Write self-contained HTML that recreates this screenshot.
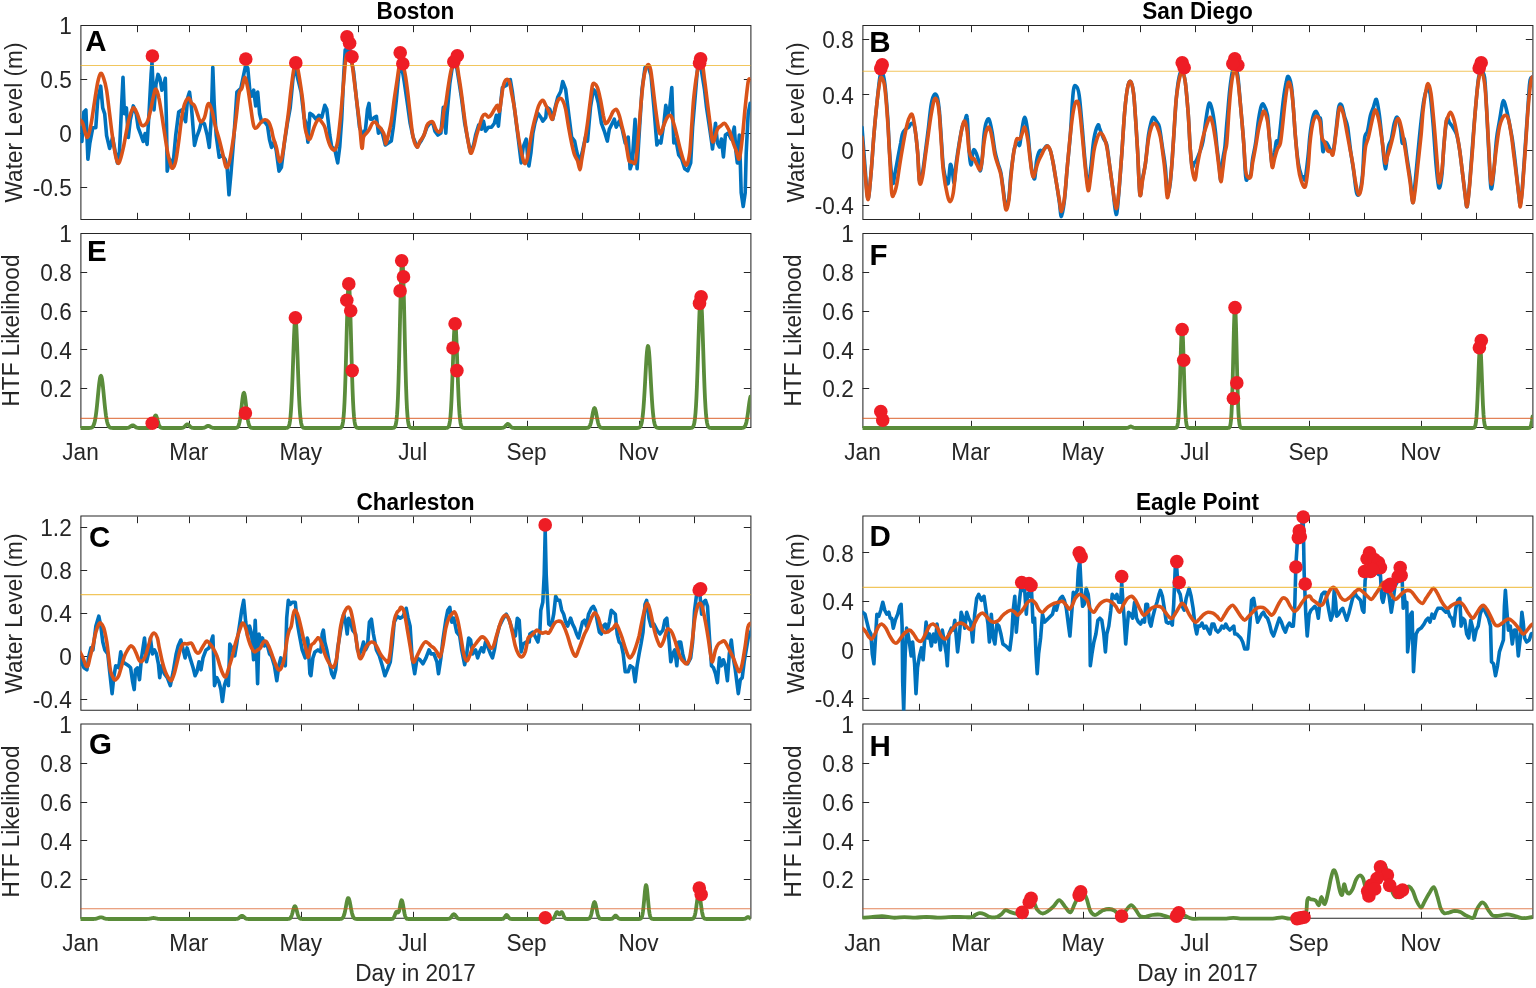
<!DOCTYPE html><html><head><meta charset="utf-8"><style>html,body{margin:0;padding:0;background:#fff;}svg{display:block;}text{font-family:"Liberation Sans",Arial,sans-serif;}</style></head><body>
<svg width="1536" height="988" viewBox="0 0 1536 988">
<rect width="1536" height="988" fill="#fff"/>
<g><clipPath id="cA"><rect x="80.5" y="25.5" width="670.0" height="194.0"/></clipPath><clipPath id="gA"><rect x="80.5" y="25.5" width="670.0" height="197.0"/></clipPath><path d="M80.4 25.5H751.4M80.4 219.4H751.4M80.9 25.5V219.4M750.9 25.5V219.4" fill="none" stroke="#262626" stroke-width="1.05"/><path d="M137.5 219.5v-6.7M137.5 25.5v6.7M189.5 219.5v-6.7M189.5 25.5v6.7M246.5 219.5v-6.7M246.5 25.5v6.7M301.5 219.5v-6.7M301.5 25.5v6.7M358.5 219.5v-6.7M358.5 25.5v6.7M413.5 219.5v-6.7M413.5 25.5v6.7M470.5 219.5v-6.7M470.5 25.5v6.7M527.5 219.5v-6.7M527.5 25.5v6.7M582.5 219.5v-6.7M582.5 25.5v6.7M639.5 219.5v-6.7M639.5 25.5v6.7M694.5 219.5v-6.7M694.5 25.5v6.7M80.5 187.5h6.7M750.5 187.5h-6.7M80.5 133.5h6.7M750.5 133.5h-6.7M80.5 79.5h6.7M750.5 79.5h-6.7" stroke="#262626" stroke-width="1" fill="none"/><polyline clip-path="url(#cA)" points="80.0,127.7 81.9,141.5 83.9,111.9 85.9,109.9 87.9,159.3 89.8,143.5 92.8,127.7 95.8,127.7 97.7,100.0 100.7,86.2 102.7,107.9 104.7,113.8 106.6,135.6 109.6,148.4 112.6,137.5 115.5,153.3 117.5,163.2 119.5,151.4 121.4,109.9 123.0,77.3 124.4,113.8 126.4,107.9 128.3,137.5 130.3,119.8 133.3,105.9 136.2,113.8 138.2,127.7 141.2,135.6 143.2,141.5 145.1,133.6 147.1,144.4 149.1,111.9 151.1,74.4 152.0,62.5 154.0,109.9 156.0,84.2 158.0,74.4 159.9,78.3 161.9,90.2 163.9,84.2 165.3,78.3 166.5,123.7 167.2,171.1 169.8,159.3 172.8,167.2 175.7,135.6 178.7,111.9 181.7,109.9 185.6,121.7 187.6,98.1 189.5,92.1 191.5,107.9 194.5,145.4 196.5,137.5 199.4,129.6 201.4,121.7 204.4,123.7 207.3,135.6 209.3,147.4 211.3,117.8 212.8,67.4 214.2,104.0 216.2,135.6 219.2,157.3 222.1,155.3 225.1,159.3 227.1,167.2 229.0,194.8 231.0,173.1 234.0,135.6 236.9,92.1 240.9,88.2 245.8,64.5 247.8,68.4 249.8,90.2 251.7,96.1 253.7,90.2 255.7,105.9 257.7,92.1 259.6,113.8 261.6,121.7 264.6,121.7 267.5,125.7 269.5,139.5 271.5,147.4 274.4,141.5 276.4,151.4 279.0,171.1 281.4,167.2 284.3,143.5 287.3,123.7 290.2,107.9 293.2,76.3 295.2,67.4 297.2,76.3 301.1,92.1 304.1,117.8 306.0,123.2 307.9,142.1 309.9,113.3 312.9,115.3 315.9,119.2 318.8,115.3 321.8,117.3 324.8,105.3 326.8,109.3 329.8,135.1 331.7,147.0 334.7,149.0 337.7,162.9 339.7,147.0 341.7,119.2 343.7,75.6 345.2,49.8 347.2,53.8 349.6,47.8 352.0,63.7 353.6,71.6 356.5,99.4 359.5,127.2 362.5,135.1 365.5,129.2 367.5,109.3 369.0,103.4 370.4,119.2 372.4,119.2 374.4,117.3 376.4,116.3 378.4,133.1 381.3,129.2 383.3,137.1 385.3,145.0 388.3,143.0 391.3,141.1 393.3,127.2 396.2,101.4 399.2,69.6 401.2,63.7 404.2,81.5 407.1,101.4 410.1,123.2 413.1,137.1 417.1,147.0 421.0,141.1 424.0,135.1 427.0,127.2 430.0,123.2 432.9,123.2 434.9,131.1 437.9,135.1 440.9,133.1 443.3,107.3 445.8,133.1 446.8,117.3 449.8,83.5 452.8,63.7 455.8,61.7 458.7,79.6 461.7,99.4 464.7,123.2 467.7,139.1 470.6,153.0 473.6,145.0 475.6,135.1 478.6,125.2 481.5,129.2 483.5,121.2 485.5,131.1 488.5,127.2 491.5,127.2 494.4,123.2 496.4,115.3 498.4,126.2 500.4,105.3 502.4,87.5 506.3,85.5 510.3,79.6 512.3,91.5 515.3,115.3 518.3,139.1 521.2,162.9 523.2,147.0 526.2,139.1 528.2,162.9 528.9,165.9 530.9,153.0 532.9,133.1 534.9,123.2 537.9,113.3 540.8,117.3 542.8,121.2 545.8,117.3 546.8,107.3 549.8,109.3 552.8,119.2 554.7,109.3 557.7,97.4 560.7,91.5 562.7,81.5 565.7,89.5 568.6,113.3 571.6,137.1 574.6,141.1 576.6,151.0 579.5,162.9 582.5,151.0 585.5,137.1 587.5,141.1 590.5,107.3 593.4,89.5 595.4,91.5 598.4,103.4 601.4,123.2 604.3,131.1 607.3,141.1 609.3,129.2 612.3,123.2 614.3,119.2 616.2,127.2 619.2,121.2 622.2,129.2 625.2,143.0 628.2,137.1 630.1,168.8 632.1,162.9 635.1,119.2 637.1,168.8 639.1,135.1 642.0,89.5 645.0,67.7 648.0,65.7 651.0,75.6 653.9,107.3 656.9,145.0 658.9,141.1 660.9,143.0 663.9,123.2 665.8,105.3 667.8,115.3 669.8,107.3 671.8,87.5 673.8,143.0 675.8,139.1 678.7,155.0 681.7,158.9 684.7,168.8 687.7,170.8 690.7,162.9 692.6,127.2 695.6,91.5 697.6,67.7 699.6,59.7 701.6,71.6 704.5,89.5 706.5,107.3 709.5,127.2 711.5,141.1 712.5,149.0 715.5,123.2 717.4,143.0 719.4,147.0 721.4,139.1 723.4,156.9 725.4,135.1 728.3,133.1 731.3,139.1 734.3,127.2 735.9,151.0 737.3,162.9 739.3,135.1 740.3,162.9 741.2,192.7 743.2,206.5 745.2,192.7 746.2,153.0 748.2,113.3 750.2,103.4" fill="none" stroke="#0072BD" stroke-width="3.6" stroke-linejoin="round" stroke-linecap="round"/><path clip-path="url(#cA)" d="M80.0,119.8C80.5,120.4 81.8,120.8 82.9,123.7C84.1,126.7 85.6,137.2 86.9,137.5C88.2,137.9 89.5,131.9 90.8,125.7C92.1,119.4 93.6,107.3 94.8,100.0C95.9,92.8 96.8,86.7 97.7,82.3C98.7,77.8 99.7,74.0 100.7,73.4C101.7,72.7 102.7,75.5 103.7,78.3C104.7,81.1 105.6,84.2 106.6,90.2C107.6,96.1 108.6,105.9 109.6,113.8C110.6,121.7 111.6,130.6 112.6,137.5C113.5,144.4 114.6,151.0 115.5,155.3C116.4,159.6 117.3,162.5 118.1,163.2C118.9,163.9 119.6,161.9 120.4,159.3C121.3,156.6 122.4,152.0 123.4,147.4C124.4,142.8 125.4,136.5 126.4,131.6C127.4,126.7 128.2,121.7 129.3,117.8C130.5,113.8 132.0,108.6 133.3,107.9C134.6,107.3 135.9,111.0 137.2,113.8C138.5,116.6 139.9,122.9 141.2,124.7C142.5,126.5 144.0,125.5 145.1,124.7C146.3,123.9 147.1,122.6 148.1,119.8C149.1,117.0 150.1,112.2 151.1,107.9C152.0,103.6 153.2,97.2 154.0,94.1C154.8,91.0 155.2,88.5 156.0,89.2C156.8,89.8 158.0,93.6 158.9,98.1C159.9,102.5 160.9,109.6 161.9,115.8C162.9,122.1 163.9,129.3 164.9,135.6C165.9,141.8 166.8,148.4 167.8,153.3C168.8,158.3 170.0,162.7 170.8,165.2C171.6,167.6 171.9,168.8 172.8,168.1C173.6,167.5 174.7,165.7 175.7,161.2C176.7,156.8 177.7,148.7 178.7,141.5C179.7,134.2 180.7,124.0 181.7,117.8C182.6,111.5 183.5,107.3 184.6,104.0C185.8,100.7 187.4,98.2 188.6,98.1C189.7,97.9 190.5,101.7 191.5,103.0C192.5,104.3 193.5,104.1 194.5,105.9C195.5,107.8 196.5,111.2 197.4,113.8C198.4,116.5 199.3,121.1 200.4,121.7C201.6,122.4 203.2,120.4 204.4,117.8C205.5,115.2 206.5,108.3 207.3,105.9C208.1,103.6 208.5,103.0 209.3,104.0C210.1,105.0 211.3,108.3 212.3,111.9C213.2,115.5 214.1,121.1 215.2,125.7C216.4,130.3 217.8,134.6 219.2,139.5C220.5,144.4 222.0,150.7 223.1,155.3C224.3,159.9 225.1,165.8 226.1,167.2C227.1,168.5 228.0,166.5 229.0,163.2C230.0,159.9 230.8,154.6 232.0,147.4C233.1,140.2 234.8,128.7 235.9,119.8C237.1,110.9 237.9,99.4 238.9,94.1C239.9,88.8 240.9,91.0 241.9,88.2C242.9,85.4 243.8,77.3 244.8,77.3C245.8,77.3 246.8,83.1 247.8,88.2C248.8,93.3 249.8,101.7 250.8,107.9C251.7,114.2 252.7,122.4 253.7,125.7C254.7,129.0 255.5,128.2 256.7,127.7C257.8,127.2 259.3,124.0 260.6,122.7C261.9,121.4 263.3,119.9 264.6,119.8C265.9,119.6 267.4,120.1 268.5,121.7C269.7,123.4 270.7,126.8 271.5,129.6C272.3,132.4 272.6,135.6 273.5,138.5C274.3,141.5 275.4,143.6 276.4,147.4C277.4,151.2 278.4,159.9 279.4,161.2C280.4,162.5 281.4,159.6 282.3,155.3C283.3,151.0 284.3,142.5 285.3,135.6C286.3,128.7 287.3,121.7 288.3,113.8C289.3,105.9 290.2,95.9 291.2,88.2C292.2,80.4 293.2,71.1 294.2,67.4C295.2,63.8 296.2,64.0 297.2,66.5C298.1,68.9 299.1,76.0 300.1,82.3C301.1,88.5 302.3,96.5 303.1,104.0C303.9,111.5 304.1,121.5 305.0,127.2C305.8,132.9 307.1,136.1 307.9,138.1C308.8,140.1 309.3,139.7 309.9,139.1C310.6,138.4 311.1,136.4 311.9,134.1C312.7,131.8 313.7,127.7 314.9,125.2C316.0,122.7 317.7,119.7 318.8,119.2C320.0,118.7 320.8,120.9 321.8,122.2C322.8,123.5 323.8,124.4 324.8,127.2C325.8,130.0 326.8,135.8 327.8,139.1C328.8,142.4 329.6,145.2 330.8,147.0C331.9,148.8 333.6,151.0 334.7,150.0C335.9,149.0 336.7,146.9 337.7,141.1C338.7,135.3 339.7,125.2 340.7,115.3C341.7,105.3 342.8,91.1 343.7,81.5C344.5,71.9 345.2,62.4 346.0,57.7C346.9,53.1 347.8,53.8 348.6,53.8C349.5,53.8 350.4,54.1 351.2,57.7C352.0,61.4 352.7,68.6 353.6,75.6C354.5,82.5 355.6,91.5 356.5,99.4C357.5,107.3 358.6,115.1 359.5,123.2C360.4,131.3 361.2,145.7 361.9,148.0C362.6,150.3 362.7,139.6 363.5,137.1C364.3,134.6 365.5,134.4 366.5,133.1C367.5,131.8 368.5,130.8 369.4,129.2C370.4,127.5 371.4,124.4 372.4,123.2C373.4,122.0 374.4,121.7 375.4,122.2C376.4,122.7 377.4,125.0 378.4,126.2C379.4,127.3 380.4,127.7 381.3,129.2C382.3,130.6 383.6,132.6 384.3,135.1C385.1,137.6 385.1,144.0 385.7,144.0C386.4,144.0 387.4,138.9 388.3,135.1C389.2,131.3 390.3,127.2 391.3,121.2C392.3,115.3 393.3,106.3 394.2,99.4C395.2,92.5 396.4,85.0 397.2,79.6C398.0,74.1 398.5,69.3 399.2,66.7C399.9,64.0 400.4,63.2 401.2,63.7C402.0,64.2 403.2,65.7 404.2,69.6C405.2,73.6 406.2,80.2 407.1,87.5C408.1,94.8 409.1,105.0 410.1,113.3C411.1,121.6 411.9,131.5 413.1,137.1C414.3,142.7 415.9,146.4 417.1,147.0C418.2,147.7 418.9,143.0 420.0,141.1C421.2,139.1 422.9,137.8 424.0,135.1C425.2,132.5 426.0,127.3 427.0,125.2C428.0,123.0 429.0,122.7 430.0,122.2C431.0,121.7 431.9,121.1 432.9,122.2C433.9,123.4 434.9,127.5 435.9,129.2C436.9,130.8 437.9,132.5 438.9,132.1C439.9,131.8 441.0,130.6 441.9,127.2C442.7,123.7 443.2,115.3 443.8,111.3C444.5,107.3 445.2,107.0 445.8,103.4C446.5,99.7 447.0,94.8 447.8,89.5C448.6,84.2 449.8,76.1 450.8,71.6C451.8,67.2 452.8,64.0 453.8,62.7C454.8,61.4 455.9,61.5 456.7,63.7C457.6,65.8 457.9,70.3 458.7,75.6C459.6,80.9 460.7,88.2 461.7,95.4C462.7,102.7 463.7,112.0 464.7,119.2C465.7,126.5 466.7,133.5 467.7,139.1C468.7,144.7 469.6,151.6 470.6,153.0C471.6,154.3 472.6,150.0 473.6,147.0C474.6,144.0 475.6,138.7 476.6,135.1C477.6,131.5 478.6,128.3 479.6,125.2C480.6,122.0 481.5,118.1 482.5,116.3C483.5,114.4 484.5,114.1 485.5,114.3C486.5,114.4 487.5,117.3 488.5,117.3C489.5,117.3 490.5,115.6 491.5,114.3C492.5,113.0 493.5,110.8 494.4,109.3C495.4,107.8 496.6,105.0 497.4,105.3C498.2,105.7 498.7,112.5 499.4,111.3C500.1,110.1 500.7,102.7 501.4,98.4C502.1,94.1 502.5,88.6 503.4,85.5C504.2,82.4 505.4,80.2 506.3,79.6C507.3,78.9 508.5,79.6 509.3,81.5C510.2,83.5 510.5,87.2 511.3,91.5C512.1,95.8 513.3,101.1 514.3,107.3C515.3,113.6 516.3,122.5 517.3,129.2C518.3,135.8 519.1,141.4 520.2,147.0C521.4,152.6 523.0,160.9 524.2,162.9C525.4,164.9 526.2,162.2 527.2,158.9C528.1,155.6 529.0,148.3 529.9,143.0C530.9,137.8 531.9,131.8 532.9,127.2C533.9,122.5 534.9,118.9 535.9,115.3C536.9,111.6 537.7,107.8 538.9,105.3C540.0,102.9 541.7,100.4 542.8,100.4C544.0,100.4 544.8,103.5 545.8,105.3C546.8,107.2 547.8,109.0 548.8,111.3C549.8,113.6 550.9,118.6 551.8,119.2C552.6,119.9 552.9,117.9 553.7,115.3C554.6,112.6 555.7,106.2 556.7,103.4C557.7,100.6 558.7,98.9 559.7,98.4C560.7,97.9 561.7,98.6 562.7,100.4C563.7,102.2 564.7,104.9 565.7,109.3C566.6,113.8 567.6,121.6 568.6,127.2C569.6,132.8 570.6,138.4 571.6,143.0C572.6,147.7 573.6,152.0 574.6,155.0C575.6,157.9 576.7,158.4 577.6,160.9C578.4,163.4 579.3,169.8 579.9,169.8C580.6,169.8 580.8,165.4 581.5,160.9C582.3,156.4 583.5,149.3 584.5,143.0C585.5,136.8 586.5,130.5 587.5,123.2C588.5,115.9 589.6,105.7 590.5,99.4C591.3,93.1 591.8,88.2 592.4,85.5C593.1,82.9 593.6,83.2 594.4,83.5C595.2,83.9 596.4,84.8 597.4,87.5C598.4,90.1 599.4,94.8 600.4,99.4C601.4,104.0 602.5,111.3 603.3,115.3C604.2,119.2 604.5,122.2 605.3,123.2C606.2,124.2 607.3,122.5 608.3,121.2C609.3,119.9 610.5,116.9 611.3,115.3C612.1,113.6 612.4,112.3 613.3,111.3C614.1,110.3 615.3,108.7 616.2,109.3C617.2,110.0 618.2,112.3 619.2,115.3C620.2,118.2 621.2,123.2 622.2,127.2C623.2,131.1 624.3,135.1 625.2,139.1C626.0,143.0 626.5,147.3 627.2,151.0C627.8,154.6 628.3,159.1 629.1,160.9C630.0,162.7 631.1,161.6 632.1,161.9C633.1,162.2 634.3,164.7 635.1,162.9C635.9,161.1 636.4,156.9 637.1,151.0C637.7,145.0 638.4,135.1 639.1,127.2C639.7,119.2 640.4,110.6 641.0,103.4C641.7,96.1 642.4,88.8 643.0,83.5C643.7,78.2 644.2,74.8 645.0,71.6C645.8,68.5 647.1,65.0 648.0,64.7C648.9,64.3 649.7,65.8 650.6,69.6C651.4,73.4 652.1,80.5 653.0,87.5C653.8,94.4 654.9,104.0 655.9,111.3C656.9,118.6 658.1,127.5 658.9,131.1C659.7,134.8 660.1,134.1 660.9,133.1C661.7,132.1 662.9,127.7 663.9,125.2C664.9,122.7 665.8,119.9 666.8,118.2C667.8,116.6 669.0,115.4 669.8,115.3C670.6,115.1 671.0,115.3 671.8,117.3C672.6,119.2 673.8,123.5 674.8,127.2C675.8,130.8 676.8,135.1 677.8,139.1C678.7,143.0 679.7,147.3 680.7,151.0C681.7,154.6 682.7,158.6 683.7,160.9C684.7,163.2 685.7,166.2 686.7,164.9C687.7,163.6 688.8,159.3 689.7,153.0C690.5,146.7 691.0,136.1 691.6,127.2C692.3,118.2 692.8,108.0 693.6,99.4C694.5,90.8 695.6,81.5 696.6,75.6C697.6,69.6 698.6,65.3 699.6,63.7C700.6,62.0 701.7,63.0 702.6,65.7C703.4,68.3 703.7,73.3 704.5,79.6C705.4,85.8 706.5,95.4 707.5,103.4C708.5,111.3 709.7,120.9 710.5,127.2C711.3,133.5 711.8,139.1 712.5,141.1C713.1,143.0 713.6,141.1 714.5,139.1C715.3,137.1 716.4,131.3 717.4,129.2C718.4,127.0 719.3,127.2 720.4,126.2C721.6,125.2 723.2,123.0 724.4,123.2C725.5,123.4 726.4,125.5 727.4,127.2C728.3,128.8 729.3,130.5 730.3,133.1C731.3,135.8 732.3,140.1 733.3,143.0C734.3,146.0 735.3,148.3 736.3,151.0C737.3,153.6 738.3,160.9 739.3,158.9C740.3,156.9 741.2,147.7 742.2,139.1C743.2,130.5 744.2,116.9 745.2,107.3C746.2,97.7 747.4,86.2 748.2,81.5C749.0,76.9 749.8,79.9 750.2,79.6" fill="none" stroke="#D95319" stroke-width="3.6" stroke-linejoin="round" stroke-linecap="round"/><line x1="80.5" x2="750.5" y1="65.47" y2="65.47" stroke="#EDB120" stroke-width="1.1" opacity="0.72"/><circle cx="152.4" cy="56.0" r="6.8" fill="#EE1D25"/><circle cx="245.8" cy="59.0" r="6.8" fill="#EE1D25"/><circle cx="295.8" cy="62.9" r="6.8" fill="#EE1D25"/><circle cx="347.0" cy="36.9" r="6.8" fill="#EE1D25"/><circle cx="349.6" cy="43.2" r="6.8" fill="#EE1D25"/><circle cx="352.0" cy="56.7" r="6.8" fill="#EE1D25"/><circle cx="400.2" cy="52.8" r="6.8" fill="#EE1D25"/><circle cx="402.8" cy="63.7" r="6.8" fill="#EE1D25"/><circle cx="453.8" cy="61.7" r="6.8" fill="#EE1D25"/><circle cx="457.3" cy="55.7" r="6.8" fill="#EE1D25"/><circle cx="700.6" cy="58.7" r="6.8" fill="#EE1D25"/><circle cx="699.6" cy="63.3" r="6.8" fill="#EE1D25"/><text transform="translate(71.70,195.92) scale(1,1.04)" font-size="22.6" fill="#262626" text-anchor="end">-0.5</text><text transform="translate(71.70,142.03) scale(1,1.04)" font-size="22.6" fill="#262626" text-anchor="end">0</text><text transform="translate(71.70,88.14) scale(1,1.04)" font-size="22.6" fill="#262626" text-anchor="end">0.5</text><text transform="translate(71.70,34.25) scale(1,1.04)" font-size="22.6" fill="#262626" text-anchor="end">1</text><text transform="translate(415.50,19.30) scale(1,1.04)" font-size="22.6" fill="#000" font-weight="bold" text-anchor="middle">Boston</text><text transform="translate(21.50,122.50) rotate(-90) scale(1,1.04)" font-size="22.6" fill="#262626" text-anchor="middle">Water Level (m)</text><text transform="translate(85.30,50.70) scale(1,1.03)" font-size="29.5" fill="#000" font-weight="bold">A</text></g>
<g><clipPath id="cB"><rect x="862.5" y="25.5" width="670.0" height="194.0"/></clipPath><clipPath id="gB"><rect x="862.5" y="25.5" width="670.0" height="197.0"/></clipPath><path d="M862.4 25.5H1533.4M862.4 219.4H1533.4M862.9 25.5V219.4M1532.9 25.5V219.4" fill="none" stroke="#262626" stroke-width="1.05"/><path d="M919.5 219.5v-6.7M919.5 25.5v6.7M971.5 219.5v-6.7M971.5 25.5v6.7M1028.5 219.5v-6.7M1028.5 25.5v6.7M1083.5 219.5v-6.7M1083.5 25.5v6.7M1140.5 219.5v-6.7M1140.5 25.5v6.7M1195.5 219.5v-6.7M1195.5 25.5v6.7M1252.5 219.5v-6.7M1252.5 25.5v6.7M1309.5 219.5v-6.7M1309.5 25.5v6.7M1364.5 219.5v-6.7M1364.5 25.5v6.7M1421.5 219.5v-6.7M1421.5 25.5v6.7M1476.5 219.5v-6.7M1476.5 25.5v6.7M862.5 205.5h6.7M1532.5 205.5h-6.7M862.5 150.5h6.7M1532.5 150.5h-6.7M862.5 94.5h6.7M1532.5 94.5h-6.7M862.5 39.5h6.7M1532.5 39.5h-6.7" stroke="#262626" stroke-width="1" fill="none"/><path clip-path="url(#cB)" d="M862.0,127.2C862.5,133.8 864.0,155.0 865.0,166.9C866.0,178.8 866.9,197.3 867.9,198.6C868.9,199.9 869.9,185.4 870.9,174.8C871.9,164.2 872.9,147.0 873.9,135.1C874.9,123.2 875.9,113.0 876.9,103.4C877.9,93.8 879.0,82.9 879.8,77.6C880.7,72.3 881.0,70.6 881.8,71.6C882.7,72.6 883.8,75.6 884.8,83.5C885.8,91.5 887.0,107.3 887.8,119.2C888.6,131.1 888.9,144.4 889.8,155.0C890.6,165.5 891.9,179.4 892.7,182.7C893.6,186.0 893.9,178.8 894.7,174.8C895.5,170.8 896.7,164.2 897.7,158.9C898.7,153.6 899.8,147.3 900.7,143.0C901.5,138.7 901.8,135.4 902.7,133.1C903.5,130.8 904.6,130.2 905.6,129.2C906.6,128.2 907.6,128.2 908.6,127.2C909.6,126.2 910.6,123.2 911.6,123.2C912.6,123.2 913.6,122.5 914.6,127.2C915.6,131.8 916.7,142.1 917.5,151.0C918.4,159.9 918.7,177.1 919.5,180.7C920.4,184.4 921.5,177.8 922.5,172.8C923.5,167.8 924.5,158.6 925.5,151.0C926.5,143.4 927.5,135.1 928.5,127.2C929.4,119.2 930.4,108.8 931.4,103.4C932.4,97.9 933.4,95.4 934.4,94.4C935.4,93.4 936.6,94.6 937.4,97.4C938.2,100.2 938.7,104.4 939.4,111.3C940.0,118.2 940.7,129.8 941.3,139.1C942.0,148.3 942.5,159.9 943.3,166.9C944.2,173.8 945.5,178.1 946.3,180.7C947.1,183.4 947.6,185.4 948.3,182.7C949.0,180.1 949.6,166.9 950.3,164.9C950.9,162.9 951.6,167.8 952.3,170.8C952.9,173.8 953.6,184.1 954.2,182.7C954.9,181.4 955.4,169.5 956.2,162.9C957.1,156.3 958.2,149.0 959.2,143.0C960.2,137.1 961.3,130.8 962.2,127.2C963.1,123.5 963.9,122.9 964.8,121.2C965.6,119.6 966.4,112.3 967.1,117.3C967.9,122.2 968.5,143.0 969.1,151.0C969.8,158.9 970.4,164.9 971.1,164.9C971.8,164.9 972.4,153.3 973.1,151.0C973.8,148.7 974.3,149.7 975.1,151.0C975.9,152.3 977.2,155.6 978.1,158.9C978.9,162.2 979.4,170.5 980.0,170.8C980.7,171.2 981.4,166.9 982.0,160.9C982.7,155.0 983.3,141.4 984.0,135.1C984.7,128.8 985.2,125.9 986.0,123.2C986.8,120.6 988.0,117.9 989.0,119.2C990.0,120.6 991.0,125.9 991.9,131.1C992.9,136.4 993.9,145.7 994.9,151.0C995.9,156.3 996.9,159.3 997.9,162.9C998.9,166.5 1000.0,168.8 1000.9,172.8C1001.7,176.8 1002.0,181.1 1002.9,186.7C1003.7,192.3 1004.8,204.6 1005.8,206.5C1006.8,208.5 1008.0,203.9 1008.8,198.6C1009.6,193.3 1010.1,181.4 1010.8,174.8C1011.5,168.2 1012.1,163.6 1012.8,158.9C1013.4,154.3 1013.9,149.7 1014.8,147.0C1015.6,144.4 1016.9,143.4 1017.7,143.0C1018.6,142.7 1019.1,147.0 1019.7,145.0C1020.4,143.0 1020.9,135.8 1021.7,131.1C1022.5,126.5 1023.7,117.3 1024.7,117.3C1025.7,117.3 1026.8,125.5 1027.7,131.1C1028.5,136.8 1029.0,144.7 1029.6,151.0C1030.3,157.3 1030.8,164.2 1031.6,168.8C1032.5,173.5 1033.8,180.1 1034.6,178.8C1035.4,177.4 1035.8,165.5 1036.6,160.9C1037.4,156.3 1038.6,152.6 1039.6,151.0C1040.6,149.3 1041.5,151.6 1042.5,151.0C1043.5,150.3 1044.7,147.8 1045.5,147.0C1046.3,146.2 1046.7,145.4 1047.5,146.0C1048.3,146.7 1049.5,147.8 1050.5,151.0C1051.5,154.1 1052.5,159.6 1053.5,164.9C1054.4,170.2 1055.4,176.4 1056.4,182.7C1057.4,189.0 1058.6,196.9 1059.4,202.6C1060.2,208.2 1060.6,216.8 1061.4,216.5C1062.2,216.1 1063.4,208.9 1064.4,200.6C1065.4,192.3 1066.3,177.8 1067.3,166.9C1068.3,155.9 1069.3,147.7 1070.3,135.1C1071.3,122.5 1072.3,99.6 1073.3,91.5C1074.3,83.4 1075.3,85.8 1076.3,86.5C1077.3,87.2 1078.3,88.6 1079.2,95.4C1080.2,102.2 1081.2,115.9 1082.2,127.2C1083.2,138.4 1084.2,153.0 1085.2,162.9C1086.2,172.8 1087.2,186.0 1088.2,186.7C1089.1,187.4 1090.0,174.8 1090.9,166.9C1091.9,158.9 1092.7,146.0 1093.9,139.1C1095.1,132.1 1096.9,126.8 1097.9,125.2C1098.9,123.5 1098.9,126.8 1099.9,129.2C1100.8,131.5 1102.7,136.4 1103.8,139.1C1105.0,141.7 1105.8,140.4 1106.8,145.0C1107.8,149.7 1108.8,159.6 1109.8,166.9C1110.8,174.1 1111.7,180.7 1112.8,188.7C1113.8,196.6 1115.1,213.5 1116.1,214.5C1117.1,215.5 1117.8,204.6 1118.7,194.6C1119.6,184.7 1120.7,168.8 1121.7,155.0C1122.7,141.1 1123.7,122.5 1124.7,111.3C1125.7,100.1 1126.6,92.5 1127.6,87.5C1128.6,82.5 1129.6,80.5 1130.6,81.5C1131.6,82.5 1132.8,87.2 1133.6,93.4C1134.4,99.7 1134.9,109.6 1135.6,119.2C1136.2,128.8 1136.8,138.4 1137.6,151.0C1138.3,163.6 1139.1,190.0 1139.9,194.6C1140.8,199.3 1141.6,184.1 1142.5,178.8C1143.4,173.5 1144.5,170.2 1145.5,162.9C1146.5,155.6 1147.5,142.1 1148.5,135.1C1149.5,128.2 1150.6,124.2 1151.4,121.2C1152.3,118.2 1152.6,117.3 1153.4,117.3C1154.3,117.3 1155.4,119.6 1156.4,121.2C1157.4,122.9 1158.4,122.9 1159.4,127.2C1160.4,131.5 1161.4,140.4 1162.4,147.0C1163.3,153.6 1164.5,159.3 1165.3,166.9C1166.2,174.5 1166.5,190.0 1167.3,192.7C1168.1,195.3 1169.3,191.0 1170.3,182.7C1171.3,174.5 1172.3,156.9 1173.3,143.0C1174.3,129.2 1175.3,110.5 1176.2,99.4C1177.2,88.3 1178.2,81.2 1179.2,76.6C1180.2,71.9 1181.2,70.8 1182.2,71.6C1183.2,72.4 1184.2,74.6 1185.2,81.5C1186.2,88.5 1187.3,102.4 1188.2,113.3C1189.0,124.2 1189.5,138.1 1190.1,147.0C1190.8,155.9 1191.5,164.2 1192.1,166.9C1192.8,169.5 1193.4,163.9 1194.1,162.9C1194.8,161.9 1195.1,162.9 1196.1,160.9C1197.1,158.9 1198.9,154.3 1200.1,151.0C1201.2,147.7 1202.0,146.4 1203.0,141.1C1204.0,135.8 1205.0,125.5 1206.0,119.2C1207.0,113.0 1208.0,105.0 1209.0,103.4C1210.0,101.7 1211.0,105.3 1212.0,109.3C1213.0,113.3 1214.1,120.9 1214.9,127.2C1215.8,133.5 1216.3,141.1 1216.9,147.0C1217.6,153.0 1218.2,157.3 1218.9,162.9C1219.6,168.5 1220.2,181.4 1220.9,180.7C1221.6,180.1 1222.2,164.5 1222.9,158.9C1223.5,153.3 1224.2,153.0 1224.9,147.0C1225.5,141.1 1226.0,132.8 1226.8,123.2C1227.7,113.6 1228.8,98.4 1229.8,89.5C1230.8,80.5 1231.9,73.3 1232.8,69.6C1233.7,66.0 1234.3,66.7 1235.2,67.7C1236.0,68.6 1236.8,69.0 1237.8,75.6C1238.7,82.2 1239.7,96.1 1240.7,107.3C1241.7,118.6 1242.9,131.5 1243.7,143.0C1244.5,154.6 1245.0,170.8 1245.7,176.8C1246.4,182.7 1246.8,179.1 1247.7,178.8C1248.5,178.4 1249.8,178.1 1250.7,174.8C1251.5,171.5 1251.8,164.2 1252.6,158.9C1253.5,153.6 1254.6,149.7 1255.6,143.0C1256.6,136.4 1257.6,125.5 1258.6,119.2C1259.6,113.0 1260.6,107.7 1261.6,105.3C1262.5,103.0 1263.2,103.7 1264.1,105.3C1265.1,107.0 1266.6,109.6 1267.5,115.3C1268.4,120.9 1268.7,130.8 1269.5,139.1C1270.3,147.3 1271.3,162.6 1272.1,164.9C1272.9,167.2 1273.7,156.9 1274.5,153.0C1275.2,149.0 1275.8,142.7 1276.4,141.1C1277.1,139.4 1277.8,145.4 1278.4,143.0C1279.1,140.7 1279.6,134.4 1280.4,127.2C1281.2,119.9 1282.4,107.0 1283.4,99.4C1284.4,91.8 1285.5,85.3 1286.4,81.5C1287.2,77.7 1287.5,75.9 1288.3,76.6C1289.2,77.2 1290.5,80.4 1291.3,85.5C1292.2,90.6 1292.6,99.1 1293.3,107.3C1294.0,115.6 1294.5,125.9 1295.3,135.1C1296.1,144.4 1297.3,156.3 1298.3,162.9C1299.3,169.5 1300.4,172.5 1301.2,174.8C1302.1,177.1 1302.6,176.1 1303.2,176.8C1303.9,177.4 1304.4,182.4 1305.2,178.8C1306.0,175.1 1307.4,162.2 1308.2,155.0C1309.0,147.7 1309.2,141.4 1310.0,135.1C1310.7,128.8 1311.9,121.2 1312.9,117.3C1313.9,113.3 1314.9,111.3 1315.9,111.3C1316.9,111.3 1318.1,115.6 1318.9,117.3C1319.7,118.9 1320.2,115.6 1320.9,121.2C1321.5,126.8 1322.2,147.3 1322.8,151.0C1323.5,154.6 1324.2,144.4 1324.8,143.0C1325.5,141.7 1326.0,142.1 1326.8,143.0C1327.6,144.0 1328.8,147.3 1329.8,149.0C1330.8,150.7 1331.8,155.6 1332.8,153.0C1333.8,150.3 1334.8,140.7 1335.7,133.1C1336.7,125.5 1337.7,112.0 1338.7,107.3C1339.7,102.7 1340.7,103.7 1341.7,105.3C1342.7,107.0 1343.7,113.6 1344.7,117.3C1345.7,120.9 1346.7,121.6 1347.7,127.2C1348.6,132.8 1349.6,143.7 1350.6,151.0C1351.6,158.3 1352.6,163.9 1353.6,170.8C1354.6,177.8 1355.6,189.0 1356.6,192.7C1357.6,196.3 1358.6,195.6 1359.6,192.7C1360.5,189.7 1361.7,183.7 1362.5,174.8C1363.4,165.9 1363.7,146.4 1364.5,139.1C1365.3,131.8 1366.5,135.1 1367.5,131.1C1368.5,127.2 1369.5,119.2 1370.5,115.3C1371.5,111.3 1372.5,110.0 1373.4,107.3C1374.4,104.7 1375.4,98.1 1376.4,99.4C1377.4,100.7 1378.4,108.0 1379.4,115.3C1380.4,122.5 1381.4,134.1 1382.4,143.0C1383.4,152.0 1384.4,168.2 1385.3,168.8C1386.3,169.5 1387.3,152.0 1388.3,147.0C1389.3,142.1 1390.3,143.0 1391.3,139.1C1392.3,135.1 1393.3,126.8 1394.3,123.2C1395.3,119.6 1396.3,116.6 1397.3,117.3C1398.2,117.9 1399.4,122.9 1400.2,127.2C1401.1,131.5 1401.6,141.1 1402.2,143.0C1402.9,145.0 1403.4,136.4 1404.2,139.1C1405.0,141.7 1406.2,152.3 1407.2,158.9C1408.2,165.5 1409.2,171.5 1410.2,178.8C1411.1,186.0 1411.9,201.9 1412.7,202.6C1413.6,203.2 1414.2,191.3 1415.1,182.7C1416.0,174.1 1417.1,161.2 1418.1,151.0C1419.1,140.7 1420.1,129.8 1421.1,121.2C1422.1,112.6 1423.0,104.7 1424.0,99.4C1425.0,94.1 1426.0,90.5 1427.0,89.5C1428.0,88.5 1429.0,87.8 1430.0,93.4C1431.0,99.1 1432.0,111.6 1433.0,123.2C1434.0,134.8 1435.0,152.1 1435.9,162.9C1436.9,173.6 1437.9,185.7 1438.9,187.7C1439.9,189.7 1441.1,181.9 1441.9,174.8C1442.7,167.7 1443.1,154.3 1443.9,145.0C1444.7,135.8 1445.9,122.9 1446.9,119.2C1447.8,115.6 1448.8,121.9 1449.8,123.2C1450.8,124.5 1451.7,125.2 1452.8,127.2C1454.0,129.2 1455.6,131.1 1456.8,135.1C1457.9,139.1 1458.8,144.4 1459.8,151.0C1460.7,157.6 1461.8,167.5 1462.7,174.8C1463.6,182.1 1464.4,189.3 1465.1,194.6C1465.8,199.9 1466.3,208.5 1467.1,206.5C1467.9,204.6 1468.7,193.3 1469.7,182.7C1470.6,172.1 1471.7,155.6 1472.7,143.0C1473.6,130.5 1474.6,118.2 1475.6,107.3C1476.6,96.4 1477.6,83.5 1478.6,77.6C1479.6,71.6 1480.6,71.6 1481.6,71.6C1482.6,71.6 1483.7,71.6 1484.6,77.6C1485.4,83.5 1485.9,95.8 1486.5,107.3C1487.2,118.9 1487.8,133.6 1488.5,147.0C1489.3,160.4 1490.1,183.1 1490.9,187.7C1491.7,192.3 1492.6,182.9 1493.5,174.8C1494.4,166.7 1495.5,148.0 1496.5,139.1C1497.5,130.2 1498.4,127.2 1499.4,121.2C1500.4,115.3 1501.7,106.7 1502.4,103.4C1503.2,100.1 1503.3,100.4 1504.0,101.4C1504.7,102.4 1505.5,105.7 1506.4,109.3C1507.3,113.0 1508.4,118.2 1509.4,123.2C1510.3,128.2 1511.3,132.5 1512.3,139.1C1513.3,145.7 1514.3,154.3 1515.3,162.9C1516.3,171.5 1517.5,183.6 1518.3,190.7C1519.1,197.8 1519.6,205.9 1520.3,205.5C1520.9,205.2 1521.4,198.4 1522.3,188.7C1523.1,178.9 1524.2,161.2 1525.2,147.0C1526.2,132.8 1527.4,114.6 1528.2,103.4C1529.0,92.1 1529.2,83.9 1530.2,79.6C1531.2,75.3 1533.5,77.9 1534.2,77.6" fill="none" stroke="#0072BD" stroke-width="3.6" stroke-linejoin="round" stroke-linecap="round"/><path clip-path="url(#cB)" d="M862.0,137.1C862.5,143.0 864.0,162.4 865.0,172.8C866.0,183.2 866.9,199.3 867.9,199.6C868.9,199.9 869.9,185.5 870.9,174.8C871.9,164.0 872.9,147.0 873.9,135.1C874.9,123.2 875.9,112.3 876.9,103.4C877.9,94.4 879.0,85.8 879.8,81.5C880.7,77.2 881.0,76.6 881.8,77.6C882.7,78.6 883.8,79.9 884.8,87.5C885.8,95.1 887.0,111.3 887.8,123.2C888.6,135.1 889.1,147.3 889.8,158.9C890.4,170.5 891.1,186.7 891.7,192.7C892.4,198.6 892.9,196.0 893.7,194.6C894.6,193.3 895.7,189.7 896.7,184.7C897.7,179.8 898.7,171.2 899.7,164.9C900.7,158.6 901.7,152.6 902.7,147.0C903.7,141.4 904.6,135.8 905.6,131.1C906.6,126.5 907.6,122.0 908.6,119.2C909.7,116.4 911.0,113.3 912.0,114.3C913.0,115.3 913.6,119.1 914.6,125.2C915.5,131.3 916.7,141.4 917.5,151.0C918.4,160.6 918.7,178.4 919.5,182.7C920.4,187.0 921.5,181.4 922.5,176.8C923.5,172.1 924.5,162.2 925.5,155.0C926.5,147.7 927.5,140.1 928.5,133.1C929.4,126.2 930.4,118.9 931.4,113.3C932.4,107.7 933.4,101.4 934.4,99.4C935.4,97.4 936.6,98.7 937.4,101.4C938.2,104.0 938.7,108.3 939.4,115.3C940.0,122.2 940.7,133.8 941.3,143.0C942.0,152.3 942.3,162.2 943.3,170.8C944.3,179.4 946.1,189.5 947.3,194.6C948.5,199.8 949.3,201.9 950.3,201.6C951.3,201.2 952.3,198.4 953.3,192.7C954.2,186.9 955.2,174.8 956.2,166.9C957.2,158.9 958.2,151.6 959.2,145.0C960.2,138.4 961.3,131.1 962.2,127.2C963.1,123.2 963.9,120.6 964.8,121.2C965.6,121.9 966.4,126.2 967.1,131.1C967.9,136.1 968.3,146.4 969.1,151.0C970.0,155.6 971.3,157.6 972.1,158.9C972.9,160.2 973.3,157.9 974.1,158.9C974.9,159.9 976.1,163.1 977.1,164.9C978.1,166.7 979.2,170.5 980.0,169.8C980.9,169.2 981.4,165.4 982.0,160.9C982.7,156.4 983.3,147.8 984.0,143.0C984.7,138.3 985.2,134.8 986.0,132.1C986.8,129.5 988.0,126.3 989.0,127.2C990.0,128.0 991.0,132.5 991.9,137.1C992.9,141.7 993.9,150.3 994.9,155.0C995.9,159.6 996.9,161.6 997.9,164.9C998.9,168.2 1000.0,170.8 1000.9,174.8C1001.7,178.8 1002.0,182.9 1002.9,188.7C1003.7,194.5 1004.8,207.5 1005.8,209.5C1006.8,211.5 1008.0,205.7 1008.8,200.6C1009.6,195.5 1010.1,185.7 1010.8,178.8C1011.5,171.8 1012.1,164.2 1012.8,158.9C1013.4,153.6 1014.1,150.3 1014.8,147.0C1015.4,143.7 1015.9,140.4 1016.7,139.1C1017.6,137.8 1018.9,139.7 1019.7,139.1C1020.5,138.4 1020.9,137.1 1021.7,135.1C1022.5,133.1 1023.7,126.5 1024.7,127.2C1025.7,127.8 1026.8,134.4 1027.7,139.1C1028.5,143.7 1029.0,149.7 1029.6,155.0C1030.3,160.2 1031.0,167.2 1031.6,170.8C1032.3,174.5 1032.8,177.4 1033.6,176.8C1034.4,176.1 1035.8,169.5 1036.6,166.9C1037.4,164.2 1037.7,162.9 1038.6,160.9C1039.4,158.9 1040.6,156.9 1041.5,155.0C1042.5,153.0 1043.5,150.5 1044.5,149.0C1045.5,147.5 1046.5,145.7 1047.5,146.0C1048.5,146.4 1049.5,147.8 1050.5,151.0C1051.5,154.1 1052.5,159.6 1053.5,164.9C1054.4,170.2 1055.4,176.8 1056.4,182.7C1057.4,188.7 1058.6,195.8 1059.4,200.6C1060.2,205.4 1060.6,211.8 1061.4,211.5C1062.2,211.2 1063.4,206.0 1064.4,198.6C1065.4,191.2 1066.3,177.4 1067.3,166.9C1068.3,156.3 1069.3,144.4 1070.3,135.1C1071.3,125.9 1072.3,116.9 1073.3,111.3C1074.3,105.7 1075.3,102.0 1076.3,101.4C1077.3,100.7 1078.3,101.7 1079.2,107.3C1080.2,113.0 1081.2,125.2 1082.2,135.1C1083.2,145.0 1084.2,157.6 1085.2,166.9C1086.2,176.1 1087.2,189.3 1088.2,190.7C1089.1,192.0 1090.0,181.4 1090.9,174.8C1091.9,168.2 1092.9,156.9 1093.9,151.0C1094.9,145.0 1095.9,142.1 1096.9,139.1C1097.9,136.1 1098.7,133.5 1099.9,133.1C1101.0,132.8 1102.7,134.8 1103.8,137.1C1105.0,139.4 1105.8,142.1 1106.8,147.0C1107.8,152.0 1108.8,159.9 1109.8,166.9C1110.8,173.8 1111.7,181.7 1112.8,188.7C1113.8,195.6 1115.1,207.9 1116.1,208.5C1117.1,209.2 1117.8,201.6 1118.7,192.7C1119.6,183.7 1120.7,168.5 1121.7,155.0C1122.7,141.4 1123.7,122.5 1124.7,111.3C1125.7,100.1 1126.6,92.5 1127.6,87.5C1128.6,82.5 1129.6,80.5 1130.6,81.5C1131.6,82.5 1132.8,87.2 1133.6,93.4C1134.4,99.7 1134.9,109.6 1135.6,119.2C1136.2,128.8 1136.8,138.4 1137.6,151.0C1138.3,163.6 1139.1,189.7 1139.9,194.6C1140.8,199.6 1141.6,186.0 1142.5,180.7C1143.4,175.5 1144.5,169.8 1145.5,162.9C1146.5,155.9 1147.5,145.0 1148.5,139.1C1149.5,133.1 1150.5,129.8 1151.4,127.2C1152.4,124.5 1153.4,123.2 1154.4,123.2C1155.4,123.2 1156.4,124.9 1157.4,127.2C1158.4,129.5 1159.4,132.1 1160.4,137.1C1161.4,142.1 1162.5,150.7 1163.3,156.9C1164.2,163.2 1164.7,168.0 1165.3,174.8C1166.0,181.6 1166.5,196.6 1167.3,197.6C1168.1,198.6 1169.5,187.2 1170.3,180.7C1171.1,174.3 1171.6,167.8 1172.3,158.9C1172.9,150.0 1173.6,137.1 1174.3,127.2C1174.9,117.3 1175.4,107.3 1176.2,99.4C1177.1,91.5 1178.2,84.0 1179.2,79.6C1180.2,75.1 1181.2,72.3 1182.2,72.6C1183.2,72.9 1184.2,74.8 1185.2,81.5C1186.2,88.3 1187.3,102.4 1188.2,113.3C1189.0,124.2 1189.5,137.8 1190.1,147.0C1190.8,156.3 1191.3,163.4 1192.1,168.8C1192.9,174.3 1194.3,180.1 1195.1,179.8C1195.9,179.4 1196.3,171.7 1197.1,166.9C1197.9,162.1 1199.1,155.9 1200.1,151.0C1201.0,146.0 1202.0,141.1 1203.0,137.1C1204.0,133.1 1204.9,130.5 1206.0,127.2C1207.2,123.9 1208.8,117.6 1210.0,117.3C1211.1,116.9 1212.0,120.9 1213.0,125.2C1213.9,129.5 1214.9,136.1 1215.9,143.0C1216.9,150.0 1218.1,160.4 1218.9,166.9C1219.7,173.3 1220.2,181.4 1220.9,181.7C1221.6,182.1 1222.2,173.6 1222.9,168.8C1223.5,164.0 1224.2,157.3 1224.9,153.0C1225.5,148.7 1226.2,149.7 1226.8,143.0C1227.5,136.4 1228.2,122.2 1228.8,113.3C1229.5,104.4 1230.1,95.8 1230.8,89.5C1231.5,83.2 1232.1,78.9 1232.8,75.6C1233.5,72.3 1234.3,69.0 1235.2,69.6C1236.0,70.3 1236.8,73.3 1237.8,79.6C1238.7,85.8 1239.7,96.8 1240.7,107.3C1241.7,117.9 1242.9,132.5 1243.7,143.0C1244.5,153.6 1245.0,165.2 1245.7,170.8C1246.4,176.4 1246.8,175.8 1247.7,176.8C1248.5,177.8 1249.8,179.1 1250.7,176.8C1251.5,174.5 1251.8,167.8 1252.6,162.9C1253.5,157.9 1254.6,152.6 1255.6,147.0C1256.6,141.4 1257.6,134.1 1258.6,129.2C1259.6,124.2 1260.6,120.2 1261.6,117.3C1262.5,114.3 1263.2,110.6 1264.1,111.3C1265.1,112.0 1266.6,116.6 1267.5,121.2C1268.4,125.9 1268.7,131.5 1269.5,139.1C1270.3,146.7 1271.3,163.6 1272.1,166.9C1272.9,170.2 1273.6,161.9 1274.5,158.9C1275.4,155.9 1276.4,151.6 1277.4,149.0C1278.4,146.4 1279.6,146.7 1280.4,143.0C1281.2,139.4 1281.6,134.4 1282.4,127.2C1283.2,119.9 1284.4,106.8 1285.4,99.4C1286.4,92.0 1287.4,84.2 1288.3,82.5C1289.3,80.9 1290.5,85.3 1291.3,89.5C1292.2,93.6 1292.6,99.7 1293.3,107.3C1294.0,114.9 1294.5,125.2 1295.3,135.1C1296.1,145.0 1297.3,159.3 1298.3,166.9C1299.3,174.5 1300.1,177.4 1301.2,180.7C1302.4,184.1 1304.1,189.0 1305.2,186.7C1306.4,184.4 1307.4,174.1 1308.2,166.9C1309.0,159.6 1309.2,150.3 1310.0,143.0C1310.7,135.8 1311.9,127.7 1312.9,123.2C1314.0,118.7 1315.1,116.6 1316.3,116.3C1317.5,115.9 1318.9,117.8 1319.9,121.2C1320.8,124.7 1321.0,133.5 1321.9,137.1C1322.7,140.7 1323.8,140.7 1324.8,143.0C1325.8,145.4 1326.8,149.7 1327.8,151.0C1328.8,152.3 1330.0,150.3 1330.8,151.0C1331.6,151.6 1332.1,156.3 1332.8,155.0C1333.4,153.6 1334.1,147.7 1334.8,143.0C1335.4,138.4 1336.1,132.5 1336.7,127.2C1337.4,121.9 1338.1,114.6 1338.7,111.3C1339.4,108.0 1339.9,106.7 1340.7,107.3C1341.5,108.0 1342.7,111.3 1343.7,115.3C1344.7,119.2 1345.7,125.9 1346.7,131.1C1347.7,136.4 1348.6,141.7 1349.6,147.0C1350.6,152.3 1351.6,156.9 1352.6,162.9C1353.6,168.8 1354.6,177.4 1355.6,182.7C1356.6,188.0 1357.6,194.0 1358.6,194.6C1359.6,195.3 1360.7,191.3 1361.5,186.7C1362.4,182.1 1362.9,173.5 1363.5,166.9C1364.2,160.2 1364.7,152.0 1365.5,147.0C1366.3,142.1 1367.5,141.1 1368.5,137.1C1369.5,133.1 1370.5,127.5 1371.5,123.2C1372.5,118.9 1373.6,113.3 1374.4,111.3C1375.3,109.3 1375.6,109.3 1376.4,111.3C1377.2,113.3 1378.4,117.9 1379.4,123.2C1380.4,128.5 1381.4,136.4 1382.4,143.0C1383.4,149.7 1384.5,160.6 1385.3,162.9C1386.2,165.2 1386.5,159.6 1387.3,156.9C1388.2,154.3 1389.3,150.7 1390.3,147.0C1391.3,143.4 1392.3,139.4 1393.3,135.1C1394.3,130.8 1395.3,123.9 1396.3,121.2C1397.2,118.6 1398.0,118.2 1398.8,119.2C1399.7,120.2 1400.3,123.2 1401.2,127.2C1402.1,131.1 1403.2,137.1 1404.2,143.0C1405.2,149.0 1406.2,156.3 1407.2,162.9C1408.2,169.5 1409.2,176.1 1410.2,182.7C1411.1,189.3 1411.9,201.2 1412.7,202.6C1413.6,203.9 1414.2,197.3 1415.1,190.7C1416.0,184.1 1417.1,172.1 1418.1,162.9C1419.1,153.6 1420.2,143.7 1421.1,135.1C1421.9,126.5 1422.3,118.2 1423.0,111.3C1423.8,104.4 1424.6,98.1 1425.4,93.4C1426.3,88.8 1427.1,83.5 1428.0,83.5C1428.9,83.5 1430.0,86.8 1431.0,93.4C1432.0,100.1 1433.0,112.3 1434.0,123.2C1435.0,134.1 1436.1,149.0 1436.9,158.9C1437.8,168.8 1438.1,180.7 1438.9,182.7C1439.7,184.7 1441.1,176.8 1441.9,170.8C1442.7,164.9 1443.2,155.0 1443.9,147.0C1444.5,139.1 1445.2,128.2 1445.9,123.2C1446.5,118.2 1447.1,119.1 1447.8,117.3C1448.6,115.4 1449.4,112.0 1450.4,112.3C1451.4,112.6 1452.7,115.8 1453.8,119.2C1454.9,122.7 1455.8,127.8 1456.8,133.1C1457.8,138.4 1458.8,144.0 1459.8,151.0C1460.7,157.9 1461.8,167.5 1462.7,174.8C1463.6,182.1 1464.4,189.3 1465.1,194.6C1465.8,199.9 1466.3,208.2 1467.1,206.5C1467.9,204.9 1468.7,194.6 1469.7,184.7C1470.6,174.8 1471.7,159.9 1472.7,147.0C1473.6,134.1 1474.6,118.6 1475.6,107.3C1476.6,96.1 1477.6,85.5 1478.6,79.6C1479.6,73.6 1480.6,71.0 1481.6,71.6C1482.6,72.3 1483.7,77.6 1484.6,83.5C1485.4,89.5 1485.9,97.4 1486.5,107.3C1487.2,117.3 1487.8,130.5 1488.5,143.0C1489.3,155.6 1490.1,177.8 1490.9,182.7C1491.7,187.7 1492.6,178.8 1493.5,172.8C1494.4,166.9 1495.5,154.6 1496.5,147.0C1497.5,139.4 1498.4,132.0 1499.4,127.2C1500.4,122.4 1501.4,120.2 1502.4,118.2C1503.4,116.3 1504.4,115.1 1505.4,115.3C1506.4,115.4 1507.4,115.9 1508.4,119.2C1509.4,122.5 1510.5,129.8 1511.3,135.1C1512.2,140.4 1512.5,144.4 1513.3,151.0C1514.2,157.6 1515.3,166.9 1516.3,174.8C1517.3,182.7 1518.6,193.3 1519.3,198.6C1519.9,203.9 1519.8,207.9 1520.3,206.5C1520.8,205.2 1521.4,199.9 1522.3,190.7C1523.1,181.4 1524.2,164.9 1525.2,151.0C1526.2,137.1 1527.2,119.2 1528.2,107.3C1529.2,95.4 1530.2,84.5 1531.2,79.6C1532.2,74.6 1533.7,77.9 1534.2,77.6" fill="none" stroke="#D95319" stroke-width="3.6" stroke-linejoin="round" stroke-linecap="round"/><line x1="862.5" x2="1532.5" y1="71.30" y2="71.30" stroke="#EDB120" stroke-width="1.1" opacity="0.72"/><circle cx="882.2" cy="64.7" r="6.8" fill="#EE1D25"/><circle cx="880.8" cy="68.6" r="6.8" fill="#EE1D25"/><circle cx="1182.2" cy="62.7" r="6.8" fill="#EE1D25"/><circle cx="1184.2" cy="67.7" r="6.8" fill="#EE1D25"/><circle cx="1234.8" cy="58.7" r="6.8" fill="#EE1D25"/><circle cx="1237.8" cy="65.3" r="6.8" fill="#EE1D25"/><circle cx="1232.8" cy="63.7" r="6.8" fill="#EE1D25"/><circle cx="1481.2" cy="62.7" r="6.8" fill="#EE1D25"/><circle cx="1479.2" cy="68.0" r="6.8" fill="#EE1D25"/><text transform="translate(853.70,214.39) scale(1,1.04)" font-size="22.6" fill="#262626" text-anchor="end">-0.4</text><text transform="translate(853.70,158.96) scale(1,1.04)" font-size="22.6" fill="#262626" text-anchor="end">0</text><text transform="translate(853.70,103.54) scale(1,1.04)" font-size="22.6" fill="#262626" text-anchor="end">0.4</text><text transform="translate(853.70,48.11) scale(1,1.04)" font-size="22.6" fill="#262626" text-anchor="end">0.8</text><text transform="translate(1197.50,19.30) scale(1,1.04)" font-size="22.6" fill="#000" font-weight="bold" text-anchor="middle">San Diego</text><text transform="translate(803.50,122.50) rotate(-90) scale(1,1.04)" font-size="22.6" fill="#262626" text-anchor="middle">Water Level (m)</text><text transform="translate(869.20,52.00) scale(1,1.03)" font-size="29.5" fill="#000" font-weight="bold">B</text></g>
<g><clipPath id="cE"><rect x="80.5" y="233.5" width="670.0" height="194.0"/></clipPath><clipPath id="gE"><rect x="80.5" y="233.5" width="670.0" height="197.0"/></clipPath><path d="M80.4 233.5H751.4M80.4 427.4H751.4M80.9 233.5V427.4M750.9 233.5V427.4" fill="none" stroke="#262626" stroke-width="1.05"/><path d="M189.5 427.5v-6.7M189.5 233.5v6.7M301.5 427.5v-6.7M301.5 233.5v6.7M413.5 427.5v-6.7M413.5 233.5v6.7M527.5 427.5v-6.7M527.5 233.5v6.7M639.5 427.5v-6.7M639.5 233.5v6.7M80.5 388.5h6.7M750.5 388.5h-6.7M80.5 349.5h6.7M750.5 349.5h-6.7M80.5 311.5h6.7M750.5 311.5h-6.7M80.5 272.5h6.7M750.5 272.5h-6.7" stroke="#262626" stroke-width="1" fill="none"/><polyline clip-path="url(#gE)" points="80.5,428.0 89.5,428.0 90.0,427.9 90.5,427.9 91.0,427.8 91.5,427.6 92.0,427.4 92.5,427.0 93.0,426.4 93.5,425.5 94.0,424.3 94.5,422.6 95.0,420.5 95.5,417.7 96.0,414.2 96.5,410.2 97.0,405.6 97.5,400.5 98.0,395.3 98.5,390.1 99.0,385.3 99.5,381.2 100.0,378.1 100.5,376.3 101.0,375.8 101.5,376.8 102.0,379.2 102.5,382.7 103.0,387.1 103.5,392.1 104.0,397.4 104.5,402.6 105.0,407.5 105.5,411.9 106.0,415.7 106.5,418.9 107.0,421.4 107.5,423.4 108.0,424.8 108.5,425.9 109.0,426.6 109.5,427.1 110.0,427.5 110.5,427.7 111.0,427.8 111.5,427.9 112.0,427.9 112.5,428.0 127.0,428.0 127.5,427.9 128.0,427.8 128.5,427.7 129.0,427.5 129.5,427.2 130.0,426.9 130.5,426.5 131.0,426.1 131.5,425.7 132.0,425.5 132.5,425.3 133.0,425.3 133.5,425.5 134.0,425.8 134.5,426.2 135.0,426.6 135.5,427.0 136.0,427.3 136.5,427.6 137.0,427.7 137.5,427.8 138.0,427.9 138.5,428.0 148.5,428.0 149.0,427.9 149.5,427.9 150.0,427.8 150.5,427.5 151.0,427.1 151.5,426.5 152.0,425.5 152.5,424.2 153.0,422.6 153.5,420.7 154.0,418.9 154.5,417.2 155.0,416.0 155.5,415.4 156.0,415.6 156.5,416.6 157.0,418.1 157.5,420.0 158.0,421.9 158.5,423.6 159.0,425.0 159.5,426.1 160.0,426.9 160.5,427.4 161.0,427.7 161.5,427.8 162.0,427.9 162.5,428.0 181.5,428.0 182.0,427.9 182.5,427.8 183.0,427.7 183.5,427.4 184.0,427.1 184.5,426.7 185.0,426.2 185.5,425.6 186.0,425.1 186.5,424.7 187.0,424.4 187.5,424.3 188.0,424.5 188.5,424.8 189.0,425.3 189.5,425.9 190.0,426.4 190.5,426.9 191.0,427.3 191.5,427.5 192.0,427.7 192.5,427.9 193.0,427.9 193.5,428.0 202.5,428.0 203.0,427.9 203.5,427.9 204.0,427.8 204.5,427.6 205.0,427.4 205.5,427.1 206.0,426.8 206.5,426.5 207.0,426.2 207.5,425.9 208.0,425.8 208.5,425.8 209.0,426.0 209.5,426.2 210.0,426.5 210.5,426.9 211.0,427.2 211.5,427.4 212.0,427.6 212.5,427.8 213.0,427.9 213.5,427.9 214.0,428.0 235.5,428.0 236.0,427.9 236.5,427.8 237.0,427.6 237.5,427.3 238.0,426.7 238.5,425.8 239.0,424.4 239.5,422.4 240.0,419.6 240.5,416.2 241.0,412.1 241.5,407.6 242.0,403.0 242.5,398.8 243.0,395.4 243.5,393.3 244.0,392.8 244.5,394.0 245.0,396.6 245.5,400.4 246.0,404.8 246.5,409.4 247.0,413.8 247.5,417.7 248.0,420.8 248.5,423.2 249.0,425.0 249.5,426.2 250.0,427.0 250.5,427.4 251.0,427.7 251.5,427.9 252.0,427.9 252.5,428.0 286.0,428.0 286.5,427.9 287.0,427.9 287.5,427.7 288.0,427.4 288.5,426.8 289.0,425.7 289.5,423.9 290.0,421.0 290.5,416.6 291.0,410.4 291.5,401.9 292.0,391.1 292.5,378.3 293.0,364.2 293.5,349.8 294.0,336.6 294.5,326.1 295.0,319.7 295.5,318.1 296.0,321.7 296.5,329.9 297.0,341.6 297.5,355.5 298.0,369.9 298.5,383.6 299.0,395.7 299.5,405.5 300.0,413.1 300.5,418.6 301.0,422.3 301.5,424.7 302.0,426.2 302.5,427.1 303.0,427.5 303.5,427.8 304.0,427.9 304.5,428.0 339.5,428.0 340.0,427.9 340.5,427.8 341.0,427.5 341.5,427.1 342.0,426.2 342.5,424.6 343.0,422.0 343.5,417.8 344.0,411.6 344.5,402.7 345.0,391.0 345.5,376.2 346.0,358.9 346.5,340.1 347.0,321.2 347.5,304.4 348.0,291.5 348.5,284.2 349.0,283.5 349.5,289.6 350.0,301.5 350.5,317.7 351.0,336.2 351.5,355.2 352.0,372.9 352.5,388.2 353.0,400.6 353.5,410.0 354.0,416.7 354.5,421.3 355.0,424.2 355.5,425.9 356.0,426.9 356.5,427.5 357.0,427.7 357.5,427.9 358.0,428.0 392.5,428.0 393.0,427.9 393.5,427.9 394.0,427.7 394.5,427.4 395.0,426.7 395.5,425.6 396.0,423.5 396.5,420.2 397.0,414.9 397.5,407.1 398.0,396.1 398.5,381.7 399.0,363.8 399.5,343.2 400.0,321.0 400.5,299.4 401.0,280.5 401.5,266.6 402.0,259.6 402.5,260.4 403.0,268.9 403.5,283.9 404.0,303.6 404.5,325.5 405.0,347.5 405.5,367.6 406.0,384.8 406.5,398.6 407.0,408.9 407.5,416.1 408.0,421.0 408.5,424.0 409.0,425.9 409.5,426.9 410.0,427.5 410.5,427.7 411.0,427.9 411.5,428.0 446.0,428.0 446.5,427.9 447.0,427.9 447.5,427.7 448.0,427.4 448.5,426.8 449.0,425.7 449.5,423.8 450.0,420.8 450.5,416.1 451.0,409.3 451.5,400.2 452.0,388.7 452.5,375.3 453.0,360.8 453.5,346.6 454.0,334.5 454.5,325.9 455.0,322.1 455.5,323.7 456.0,330.5 456.5,341.4 457.0,355.0 457.5,369.5 458.0,383.5 458.5,395.9 459.0,406.0 459.5,413.7 460.0,419.1 460.5,422.8 461.0,425.1 461.5,426.5 462.0,427.2 462.5,427.6 463.0,427.8 463.5,427.9 464.0,428.0 501.5,428.0 502.0,427.9 502.5,427.9 503.0,427.8 503.5,427.6 504.0,427.3 504.5,427.0 505.0,426.5 505.5,425.9 506.0,425.3 506.5,424.8 507.0,424.3 507.5,424.0 508.0,424.0 508.5,424.2 509.0,424.7 509.5,425.2 510.0,425.8 510.5,426.4 511.0,426.9 511.5,427.3 512.0,427.6 512.5,427.7 513.0,427.9 513.5,427.9 514.0,428.0 586.5,428.0 587.0,427.9 587.5,427.9 588.0,427.7 588.5,427.5 589.0,427.1 589.5,426.5 590.0,425.5 590.5,424.2 591.0,422.4 591.5,420.1 592.0,417.6 592.5,414.8 593.0,412.2 593.5,410.1 594.0,408.6 594.5,408.1 595.0,408.6 595.5,410.1 596.0,412.2 596.5,414.8 597.0,417.6 597.5,420.1 598.0,422.4 598.5,424.2 599.0,425.5 599.5,426.5 600.0,427.1 600.5,427.5 601.0,427.7 601.5,427.9 602.0,427.9 602.5,428.0 637.5,428.0 638.0,427.9 638.5,427.8 639.0,427.7 639.5,427.4 640.0,427.0 640.5,426.3 641.0,425.2 641.5,423.5 642.0,421.1 642.5,417.7 643.0,413.2 643.5,407.6 644.0,400.6 644.5,392.6 645.0,383.8 645.5,374.6 646.0,365.7 646.5,357.7 647.0,351.4 647.5,347.4 648.0,346.0 648.5,347.4 649.0,351.4 649.5,357.7 650.0,365.7 650.5,374.6 651.0,383.8 651.5,392.6 652.0,400.6 652.5,407.6 653.0,413.2 653.5,417.7 654.0,421.1 654.5,423.5 655.0,425.2 655.5,426.3 656.0,427.0 656.5,427.4 657.0,427.7 657.5,427.8 658.0,427.9 658.5,428.0 690.5,428.0 691.0,427.9 691.5,427.9 692.0,427.7 692.5,427.4 693.0,426.9 693.5,425.9 694.0,424.4 694.5,422.0 695.0,418.3 695.5,413.1 696.0,405.8 696.5,396.3 697.0,384.5 697.5,370.7 698.0,355.4 698.5,339.7 699.0,324.8 699.5,312.1 700.0,303.0 700.5,298.4 701.0,298.9 701.5,304.5 702.0,314.4 702.5,327.7 703.0,342.9 703.5,358.6 704.0,373.6 704.5,387.1 705.0,398.4 705.5,407.4 706.0,414.3 706.5,419.2 707.0,422.6 707.5,424.8 708.0,426.2 708.5,427.0 709.0,427.5 709.5,427.7 710.0,427.9 710.5,427.9 711.0,428.0 742.0,428.0 742.5,427.9 743.0,427.8 743.5,427.6 744.0,427.4 744.5,426.9 745.0,426.2 745.5,425.2 746.0,423.7 746.5,421.7 747.0,419.1 747.5,416.0 748.0,412.4 748.5,408.6 749.0,404.8 749.5,401.3 750.0,398.5 750.5,396.6" fill="none" stroke="#5A8C3A" stroke-width="3.8" stroke-linejoin="round" stroke-linecap="round"/><line x1="80.5" x2="750.5" y1="418.40" y2="418.40" stroke="#D95319" stroke-width="1.1" opacity="0.72"/><circle cx="152.2" cy="423.2" r="6.8" fill="#EE1D25"/><circle cx="245.4" cy="413.1" r="6.8" fill="#EE1D25"/><circle cx="295.4" cy="317.8" r="6.8" fill="#EE1D25"/><circle cx="348.8" cy="283.9" r="6.8" fill="#EE1D25"/><circle cx="346.8" cy="300.3" r="6.8" fill="#EE1D25"/><circle cx="350.7" cy="310.7" r="6.8" fill="#EE1D25"/><circle cx="352.2" cy="370.6" r="6.8" fill="#EE1D25"/><circle cx="401.7" cy="260.7" r="6.8" fill="#EE1D25"/><circle cx="403.5" cy="276.9" r="6.8" fill="#EE1D25"/><circle cx="400.1" cy="290.9" r="6.8" fill="#EE1D25"/><circle cx="455.1" cy="323.8" r="6.8" fill="#EE1D25"/><circle cx="453.0" cy="348.0" r="6.8" fill="#EE1D25"/><circle cx="456.9" cy="370.6" r="6.8" fill="#EE1D25"/><circle cx="701.1" cy="296.8" r="6.8" fill="#EE1D25"/><circle cx="699.5" cy="303.4" r="6.8" fill="#EE1D25"/><text transform="translate(71.70,397.45) scale(1,1.04)" font-size="22.6" fill="#262626" text-anchor="end">0.2</text><text transform="translate(71.70,358.65) scale(1,1.04)" font-size="22.6" fill="#262626" text-anchor="end">0.4</text><text transform="translate(71.70,319.85) scale(1,1.04)" font-size="22.6" fill="#262626" text-anchor="end">0.6</text><text transform="translate(71.70,281.05) scale(1,1.04)" font-size="22.6" fill="#262626" text-anchor="end">0.8</text><text transform="translate(71.70,242.25) scale(1,1.04)" font-size="22.6" fill="#262626" text-anchor="end">1</text><text transform="translate(80.50,460.00) scale(1,1.04)" font-size="22.6" fill="#262626" text-anchor="middle">Jan</text><text transform="translate(188.80,460.00) scale(1,1.04)" font-size="22.6" fill="#262626" text-anchor="middle">Mar</text><text transform="translate(300.77,460.00) scale(1,1.04)" font-size="22.6" fill="#262626" text-anchor="middle">May</text><text transform="translate(412.75,460.00) scale(1,1.04)" font-size="22.6" fill="#262626" text-anchor="middle">Jul</text><text transform="translate(526.55,460.00) scale(1,1.04)" font-size="22.6" fill="#262626" text-anchor="middle">Sep</text><text transform="translate(638.53,460.00) scale(1,1.04)" font-size="22.6" fill="#262626" text-anchor="middle">Nov</text><text transform="translate(19.10,330.50) rotate(-90) scale(1,1.04)" font-size="22.6" fill="#262626" text-anchor="middle">HTF Likelihood</text><text transform="translate(87.10,260.90) scale(1,1.03)" font-size="29.5" fill="#000" font-weight="bold">E</text></g>
<g><clipPath id="cF"><rect x="862.5" y="233.5" width="670.0" height="194.0"/></clipPath><clipPath id="gF"><rect x="862.5" y="233.5" width="670.0" height="197.0"/></clipPath><path d="M862.4 233.5H1533.4M862.4 427.4H1533.4M862.9 233.5V427.4M1532.9 233.5V427.4" fill="none" stroke="#262626" stroke-width="1.05"/><path d="M971.5 427.5v-6.7M971.5 233.5v6.7M1083.5 427.5v-6.7M1083.5 233.5v6.7M1195.5 427.5v-6.7M1195.5 233.5v6.7M1309.5 427.5v-6.7M1309.5 233.5v6.7M1421.5 427.5v-6.7M1421.5 233.5v6.7M862.5 388.5h6.7M1532.5 388.5h-6.7M862.5 349.5h6.7M1532.5 349.5h-6.7M862.5 311.5h6.7M1532.5 311.5h-6.7M862.5 272.5h6.7M1532.5 272.5h-6.7" stroke="#262626" stroke-width="1" fill="none"/><polyline clip-path="url(#gF)" points="862.5,428.0 1126.5,428.0 1127.0,427.9 1127.5,427.9 1128.0,427.7 1128.5,427.5 1129.0,427.3 1129.5,427.0 1130.0,426.7 1130.5,426.5 1131.0,426.5 1131.5,426.7 1132.0,426.9 1132.5,427.2 1133.0,427.5 1133.5,427.7 1134.0,427.8 1134.5,427.9 1135.0,428.0 1175.0,428.0 1175.5,427.9 1176.0,427.8 1176.5,427.6 1177.0,426.9 1177.5,425.4 1178.0,422.5 1178.5,417.3 1179.0,408.8 1179.5,396.6 1180.0,380.9 1180.5,363.1 1181.0,346.1 1181.5,333.1 1182.0,327.2 1182.5,329.8 1183.0,340.2 1183.5,356.0 1184.0,373.9 1184.5,390.7 1185.0,404.4 1185.5,414.3 1186.0,420.7 1186.5,424.5 1187.0,426.4 1187.5,427.3 1188.0,427.8 1188.5,427.9 1189.0,428.0 1228.0,428.0 1228.5,427.9 1229.0,427.8 1229.5,427.3 1230.0,426.4 1230.5,424.3 1231.0,420.3 1231.5,413.3 1232.0,402.3 1232.5,386.6 1233.0,366.9 1233.5,345.3 1234.0,325.4 1234.5,311.2 1235.0,306.0 1235.5,311.2 1236.0,325.4 1236.5,345.3 1237.0,366.9 1237.5,386.6 1238.0,402.3 1238.5,413.3 1239.0,420.3 1239.5,424.3 1240.0,426.4 1240.5,427.3 1241.0,427.8 1241.5,427.9 1242.0,428.0 1473.0,428.0 1473.5,427.9 1474.0,427.7 1474.5,427.4 1475.0,426.5 1475.5,424.9 1476.0,421.9 1476.5,416.9 1477.0,409.4 1477.5,399.1 1478.0,386.5 1478.5,372.8 1479.0,360.0 1479.5,350.4 1480.0,346.1 1480.5,348.0 1481.0,355.6 1481.5,367.4 1482.0,381.0 1482.5,394.3 1483.0,405.6 1483.5,414.2 1484.0,420.2 1484.5,423.9 1485.0,426.0 1485.5,427.1 1486.0,427.6 1486.5,427.9 1487.0,427.9 1487.5,428.0 1528.5,428.0 1529.0,427.9 1529.5,427.8 1530.0,427.5 1530.5,426.8 1531.0,425.4 1531.5,423.3 1532.0,420.2 1532.5,416.5" fill="none" stroke="#5A8C3A" stroke-width="3.8" stroke-linejoin="round" stroke-linecap="round"/><line x1="862.5" x2="1532.5" y1="418.40" y2="418.40" stroke="#D95319" stroke-width="1.1" opacity="0.72"/><circle cx="880.8" cy="411.5" r="6.8" fill="#EE1D25"/><circle cx="882.7" cy="420.1" r="6.8" fill="#EE1D25"/><circle cx="1182.1" cy="329.5" r="6.8" fill="#EE1D25"/><circle cx="1183.7" cy="360.2" r="6.8" fill="#EE1D25"/><circle cx="1235.0" cy="307.6" r="6.8" fill="#EE1D25"/><circle cx="1236.8" cy="382.9" r="6.8" fill="#EE1D25"/><circle cx="1233.4" cy="398.5" r="6.8" fill="#EE1D25"/><circle cx="1481.3" cy="340.5" r="6.8" fill="#EE1D25"/><circle cx="1479.4" cy="347.7" r="6.8" fill="#EE1D25"/><text transform="translate(853.70,397.45) scale(1,1.04)" font-size="22.6" fill="#262626" text-anchor="end">0.2</text><text transform="translate(853.70,358.65) scale(1,1.04)" font-size="22.6" fill="#262626" text-anchor="end">0.4</text><text transform="translate(853.70,319.85) scale(1,1.04)" font-size="22.6" fill="#262626" text-anchor="end">0.6</text><text transform="translate(853.70,281.05) scale(1,1.04)" font-size="22.6" fill="#262626" text-anchor="end">0.8</text><text transform="translate(853.70,242.25) scale(1,1.04)" font-size="22.6" fill="#262626" text-anchor="end">1</text><text transform="translate(862.50,460.00) scale(1,1.04)" font-size="22.6" fill="#262626" text-anchor="middle">Jan</text><text transform="translate(970.80,460.00) scale(1,1.04)" font-size="22.6" fill="#262626" text-anchor="middle">Mar</text><text transform="translate(1082.77,460.00) scale(1,1.04)" font-size="22.6" fill="#262626" text-anchor="middle">May</text><text transform="translate(1194.75,460.00) scale(1,1.04)" font-size="22.6" fill="#262626" text-anchor="middle">Jul</text><text transform="translate(1308.55,460.00) scale(1,1.04)" font-size="22.6" fill="#262626" text-anchor="middle">Sep</text><text transform="translate(1420.53,460.00) scale(1,1.04)" font-size="22.6" fill="#262626" text-anchor="middle">Nov</text><text transform="translate(801.10,330.50) rotate(-90) scale(1,1.04)" font-size="22.6" fill="#262626" text-anchor="middle">HTF Likelihood</text><text transform="translate(869.40,264.80) scale(1,1.03)" font-size="29.5" fill="#000" font-weight="bold">F</text></g>
<g><clipPath id="cC"><rect x="80.5" y="516.5" width="670.0" height="194.0"/></clipPath><clipPath id="gC"><rect x="80.5" y="516.5" width="670.0" height="197.0"/></clipPath><path d="M80.4 516.0H751.4M80.4 710.3H751.4M80.9 516.0V710.3M750.9 516.0V710.3" fill="none" stroke="#262626" stroke-width="1.05"/><path d="M137.5 710.5v-6.7M137.5 516.5v6.7M189.5 710.5v-6.7M189.5 516.5v6.7M246.5 710.5v-6.7M246.5 516.5v6.7M301.5 710.5v-6.7M301.5 516.5v6.7M358.5 710.5v-6.7M358.5 516.5v6.7M413.5 710.5v-6.7M413.5 516.5v6.7M470.5 710.5v-6.7M470.5 516.5v6.7M527.5 710.5v-6.7M527.5 516.5v6.7M582.5 710.5v-6.7M582.5 516.5v6.7M639.5 710.5v-6.7M639.5 516.5v6.7M694.5 710.5v-6.7M694.5 516.5v6.7M80.5 699.5h6.7M750.5 699.5h-6.7M80.5 656.5h6.7M750.5 656.5h-6.7M80.5 613.5h6.7M750.5 613.5h-6.7M80.5 570.5h6.7M750.5 570.5h-6.7M80.5 527.5h6.7M750.5 527.5h-6.7" stroke="#262626" stroke-width="1" fill="none"/><polyline clip-path="url(#cC)" points="80.0,653.9 82.0,663.8 84.0,667.8 86.9,669.8 88.9,655.9 90.9,647.9 92.9,649.9 95.9,626.1 98.8,616.2 100.8,626.1 102.8,642.0 104.8,649.9 107.8,653.9 109.7,671.7 112.1,693.6 113.7,677.7 115.7,665.8 118.7,667.8 120.7,651.9 122.6,661.8 125.6,663.8 128.6,665.8 130.6,667.8 132.6,681.7 134.2,689.6 135.5,669.8 137.5,667.8 139.5,679.7 141.5,657.9 144.5,638.0 146.5,661.8 148.4,653.9 150.4,638.0 152.4,653.9 154.4,649.9 156.4,653.9 158.4,663.8 159.7,677.7 161.3,665.8 164.3,673.7 167.3,677.7 170.3,685.6 173.2,671.7 176.2,653.9 178.2,646.0 180.8,640.0 183.2,649.9 185.1,657.9 187.1,647.9 190.1,657.9 193.1,667.8 195.1,675.7 197.0,671.7 199.0,661.8 201.0,669.8 203.0,657.9 206.0,649.9 209.0,647.9 210.9,642.0 212.9,636.0 214.5,685.6 216.9,677.7 218.9,681.7 220.9,689.6 222.4,701.5 224.4,685.6 226.8,677.7 228.4,685.6 229.8,644.0 231.8,647.9 234.7,655.9 236.7,644.0 239.7,624.1 241.7,610.2 243.7,600.3 245.7,622.1 247.6,636.0 249.6,626.1 251.6,634.0 253.6,659.8 255.2,620.2 256.6,653.9 257.6,683.7 259.0,634.0 260.5,642.0 262.5,638.0 264.5,646.0 266.5,642.0 269.5,653.9 271.5,655.9 274.4,665.8 276.8,680.7 278.8,665.8 280.8,657.9 282.8,661.8 285.3,665.8 286.7,618.2 288.3,600.3 290.3,604.3 292.3,602.3 295.3,602.3 297.2,622.1 299.2,634.0 302.2,649.9 305.2,657.9 307.2,638.0 307.9,640.0 309.9,673.7 310.9,675.7 312.9,657.9 314.9,651.9 317.9,649.9 320.8,651.9 322.2,634.0 323.4,630.1 324.8,642.0 326.8,649.9 328.8,659.8 331.7,673.7 333.7,677.7 335.7,669.8 337.7,647.9 340.7,630.1 343.7,614.2 345.6,622.1 347.2,634.0 348.6,618.2 350.6,622.1 352.6,630.1 355.6,634.0 357.5,649.9 359.5,653.9 361.5,649.9 363.5,642.0 365.5,649.9 367.5,646.0 369.4,622.1 371.4,619.2 373.4,634.0 376.4,649.9 379.4,655.9 382.3,665.8 384.9,675.7 387.3,669.8 390.3,661.8 392.3,644.0 394.2,622.1 397.2,616.2 400.2,618.2 403.2,616.2 406.2,608.3 408.1,618.2 410.1,626.1 412.1,657.9 414.7,673.7 417.1,657.9 420.0,659.8 423.0,663.8 426.0,657.9 429.0,649.9 431.0,653.9 433.9,653.9 436.9,661.8 438.5,673.7 440.9,657.9 442.9,640.0 445.8,620.2 447.8,610.2 449.8,607.3 451.8,622.1 453.8,618.2 456.7,632.1 459.7,636.0 461.7,649.9 464.7,664.8 466.7,653.9 468.7,638.0 470.6,640.0 472.6,653.9 475.6,649.9 477.6,657.9 479.6,651.9 481.5,647.9 483.5,651.9 485.5,642.0 487.5,646.0 490.5,653.9 492.5,657.9 494.4,649.9 496.4,638.0 499.4,626.1 503.4,618.2 506.3,614.2 509.3,620.2 512.3,630.1 515.3,636.0 517.3,618.2 519.2,620.2 521.2,651.9 523.2,644.0 526.2,642.0 529.2,642.0 529.9,634.0 532.9,632.1 534.9,636.0 537.9,642.0 539.9,630.1 540.8,610.2 542.8,602.3 544.2,574.5 545.2,530.9 546.2,574.5 547.4,598.3 548.8,624.1 551.4,626.1 553.7,614.2 555.7,596.3 557.7,600.3 559.7,600.3 561.7,610.2 563.7,614.2 565.7,622.1 567.6,626.1 570.6,618.2 572.6,624.1 574.6,628.1 576.6,634.0 578.5,638.0 580.5,630.1 582.5,622.1 584.5,620.2 586.5,626.1 588.5,614.2 591.4,608.3 593.4,606.3 595.4,610.2 597.4,622.1 599.4,632.1 601.4,634.0 603.3,626.1 605.3,624.1 607.3,630.1 609.3,622.1 611.3,610.2 613.3,612.2 615.3,614.2 617.2,634.0 619.2,642.0 621.2,644.0 623.2,653.9 625.2,671.7 628.2,671.7 630.1,665.8 633.1,667.8 635.1,681.7 637.1,665.8 639.1,653.9 641.0,644.0 643.0,632.1 645.0,604.3 646.6,600.3 649.0,618.2 651.0,626.1 653.9,624.1 656.9,630.1 659.9,634.0 662.9,630.1 664.9,620.2 666.8,618.2 668.8,638.0 670.8,661.8 672.8,653.9 674.8,649.9 676.8,665.8 678.7,642.0 680.7,642.0 682.7,653.9 684.7,661.8 687.7,663.8 690.7,657.9 692.6,642.0 694.6,610.2 696.6,594.4 699.6,590.4 701.6,614.2 703.5,602.3 705.5,600.3 707.5,606.3 709.5,638.0 711.5,665.8 713.5,667.8 715.5,673.7 717.4,682.7 719.4,657.9 721.4,665.8 723.4,659.8 725.4,665.8 727.4,680.7 729.3,653.9 731.3,640.0 733.3,657.9 735.3,669.8 738.3,693.6 740.3,679.7 742.2,677.7 744.2,661.8 746.2,649.9 748.2,638.0 752.2,628.1" fill="none" stroke="#0072BD" stroke-width="3.6" stroke-linejoin="round" stroke-linecap="round"/><path clip-path="url(#cC)" d="M80.0,651.9C80.5,652.9 82.0,655.5 83.0,657.9C84.0,660.2 85.1,664.5 85.9,665.8C86.8,667.1 87.3,667.1 87.9,665.8C88.6,664.5 89.1,661.2 89.9,657.9C90.7,654.6 91.9,650.3 92.9,646.0C93.9,641.7 94.9,635.7 95.9,632.1C96.8,628.4 98.0,625.6 98.8,624.1C99.7,622.6 100.0,622.5 100.8,623.1C101.6,623.8 102.8,625.0 103.8,628.1C104.8,631.2 105.9,637.0 106.8,642.0C107.6,646.9 108.1,652.9 108.8,657.9C109.4,662.8 109.9,668.3 110.7,671.7C111.6,675.2 112.9,677.4 113.7,678.7C114.5,680.0 114.9,680.2 115.7,679.7C116.5,679.2 117.7,678.0 118.7,675.7C119.7,673.4 120.7,669.1 121.7,665.8C122.6,662.5 123.6,658.5 124.6,655.9C125.6,653.2 126.6,651.6 127.6,649.9C128.6,648.3 129.6,646.3 130.6,646.0C131.6,645.6 132.6,646.6 133.6,647.9C134.5,649.3 135.5,651.7 136.5,653.9C137.5,656.0 138.5,659.7 139.5,660.8C140.5,662.0 141.5,661.7 142.5,660.8C143.5,660.0 144.5,658.4 145.5,655.9C146.5,653.4 147.4,649.3 148.4,646.0C149.4,642.6 150.4,638.2 151.4,636.0C152.4,633.9 153.4,632.7 154.4,633.1C155.4,633.4 156.5,635.5 157.4,638.0C158.2,640.5 158.5,644.0 159.3,647.9C160.2,651.9 161.3,657.9 162.3,661.8C163.3,665.8 164.3,669.1 165.3,671.7C166.3,674.4 167.3,676.2 168.3,677.7C169.3,679.2 170.3,681.3 171.3,680.7C172.2,680.0 173.2,676.9 174.2,673.7C175.2,670.6 176.2,665.8 177.2,661.8C178.2,657.9 179.2,652.9 180.2,649.9C181.2,646.9 182.0,645.0 183.2,644.0C184.3,643.0 185.8,644.1 187.1,644.0C188.4,643.8 190.1,642.6 191.1,643.0C192.1,643.3 192.3,644.5 193.1,646.0C193.9,647.4 195.1,650.7 196.1,651.9C197.0,653.1 198.0,653.6 199.0,652.9C200.0,652.2 201.0,649.6 202.0,647.9C203.0,646.3 204.2,644.1 205.0,643.0C205.8,641.8 206.1,640.8 207.0,641.0C207.8,641.2 209.0,642.8 209.9,644.0C210.9,645.1 211.8,646.0 212.9,647.9C214.1,649.9 215.7,652.9 216.9,655.9C218.0,658.8 218.9,662.8 219.9,665.8C220.9,668.8 221.8,671.9 222.8,673.7C223.8,675.5 224.8,677.7 225.8,676.7C226.8,675.7 227.8,670.9 228.8,667.8C229.8,664.6 230.8,661.5 231.8,657.9C232.8,654.2 233.8,649.6 234.7,646.0C235.7,642.3 236.7,639.2 237.7,636.0C238.7,632.9 239.9,629.3 240.7,627.1C241.5,625.0 241.9,623.0 242.7,623.1C243.5,623.3 244.7,625.3 245.7,628.1C246.7,630.9 247.6,636.7 248.6,640.0C249.6,643.3 250.6,646.0 251.6,647.9C252.6,649.9 253.6,651.6 254.6,651.9C255.6,652.2 256.6,650.6 257.6,649.9C258.6,649.3 259.5,649.3 260.5,647.9C261.5,646.6 262.5,643.0 263.5,642.0C264.5,641.0 265.5,641.0 266.5,642.0C267.5,643.0 268.5,645.6 269.5,647.9C270.5,650.3 271.5,653.2 272.4,655.9C273.4,658.5 274.4,661.5 275.4,663.8C276.4,666.1 277.4,669.1 278.4,669.8C279.4,670.4 280.4,669.8 281.4,667.8C282.4,665.8 283.4,662.8 284.3,657.9C285.3,652.9 286.5,642.6 287.3,638.0C288.2,633.4 288.6,632.1 289.3,630.1C290.0,628.1 290.6,628.8 291.3,626.1C292.0,623.5 292.6,616.9 293.3,614.2C293.9,611.6 294.4,609.9 295.3,610.2C296.1,610.6 297.2,613.2 298.2,616.2C299.2,619.2 300.2,623.8 301.2,628.1C302.2,632.4 303.2,637.7 304.2,642.0C305.2,646.3 306.5,651.4 307.2,653.9C307.9,656.4 307.7,658.2 308.3,656.9C309.0,655.5 310.0,648.3 310.9,646.0C311.8,643.6 312.9,644.1 313.9,643.0C314.9,641.8 316.0,639.8 316.9,639.0C317.7,638.2 318.0,637.2 318.8,638.0C319.7,638.8 320.8,641.3 321.8,644.0C322.8,646.6 323.8,651.1 324.8,653.9C325.8,656.7 326.8,658.8 327.8,660.8C328.8,662.8 329.8,664.8 330.8,665.8C331.7,666.8 332.7,668.1 333.7,666.8C334.7,665.5 335.9,662.0 336.7,657.9C337.5,653.7 338.0,647.3 338.7,642.0C339.4,636.7 339.8,630.7 340.7,626.1C341.5,621.5 342.5,617.3 343.7,614.2C344.8,611.1 346.5,607.9 347.6,607.3C348.8,606.6 349.6,607.4 350.6,610.2C351.6,613.0 352.6,618.8 353.6,624.1C354.6,629.4 355.6,636.4 356.5,642.0C357.5,647.6 358.5,655.5 359.5,657.9C360.5,660.2 361.5,657.5 362.5,655.9C363.5,654.2 364.5,649.9 365.5,647.9C366.5,646.0 367.5,645.0 368.5,644.0C369.4,643.0 370.4,642.1 371.4,642.0C372.4,641.8 373.4,642.0 374.4,643.0C375.4,644.0 376.4,646.1 377.4,647.9C378.4,649.8 379.4,652.2 380.4,653.9C381.3,655.5 382.3,656.7 383.3,657.9C384.3,659.0 385.5,660.2 386.3,660.8C387.1,661.5 387.6,663.3 388.3,661.8C389.0,660.3 389.6,656.5 390.3,651.9C390.9,647.3 391.5,639.7 392.3,634.0C393.0,628.4 394.0,621.8 394.8,618.2C395.7,614.5 396.5,613.5 397.2,612.2C397.9,610.9 398.5,611.1 399.2,610.2C399.9,609.4 400.4,606.9 401.2,607.3C402.0,607.6 403.2,608.8 404.2,612.2C405.2,615.7 406.2,622.5 407.1,628.1C408.1,633.7 409.1,640.3 410.1,646.0C411.1,651.6 412.1,659.8 413.1,661.8C414.1,663.8 415.1,659.5 416.1,657.9C417.1,656.2 418.1,653.9 419.0,651.9C420.0,649.9 421.0,647.6 422.0,646.0C423.0,644.3 424.0,642.5 425.0,642.0C426.0,641.5 427.0,642.3 428.0,643.0C429.0,643.6 430.0,645.1 431.0,646.0C431.9,646.8 432.9,646.9 433.9,647.9C434.9,648.9 435.9,650.4 436.9,651.9C437.9,653.4 438.9,657.9 439.9,656.9C440.9,655.9 441.9,650.7 442.9,646.0C443.8,641.2 444.8,632.7 445.8,628.1C446.8,623.5 447.8,620.5 448.8,618.2C449.8,615.9 450.8,615.2 451.8,614.2C452.8,613.2 453.8,611.2 454.8,612.2C455.8,613.2 456.7,616.2 457.7,620.2C458.7,624.1 459.7,630.4 460.7,636.0C461.7,641.7 462.7,649.8 463.7,653.9C464.7,658.0 465.7,660.5 466.7,660.8C467.7,661.2 468.7,658.0 469.6,655.9C470.6,653.7 471.6,649.9 472.6,647.9C473.6,646.0 474.6,645.3 475.6,644.0C476.6,642.6 477.6,641.2 478.6,640.0C479.6,638.8 480.6,637.4 481.5,637.0C482.5,636.7 483.5,637.2 484.5,638.0C485.5,638.8 486.5,640.3 487.5,642.0C488.5,643.6 489.5,647.3 490.5,647.9C491.5,648.6 492.5,647.9 493.5,646.0C494.4,644.0 495.4,639.3 496.4,636.0C497.4,632.7 498.4,629.1 499.4,626.1C500.4,623.1 501.2,620.0 502.4,618.2C503.5,616.4 505.2,614.9 506.3,615.2C507.5,615.5 508.3,617.3 509.3,620.2C510.3,623.0 511.3,627.8 512.3,632.1C513.3,636.4 514.3,642.3 515.3,646.0C516.3,649.6 517.2,652.1 518.3,653.9C519.3,655.7 520.7,657.2 521.8,656.9C523.0,656.5 524.1,655.0 525.2,651.9C526.3,648.8 527.2,640.7 528.2,638.0C529.1,635.4 530.0,636.9 530.9,636.0C531.9,635.2 532.9,634.0 533.9,633.1C534.9,632.1 535.9,630.2 536.9,630.1C537.9,629.9 538.9,631.6 539.9,632.1C540.8,632.6 541.8,633.1 542.8,633.1C543.8,633.1 544.8,632.1 545.8,632.1C546.8,632.1 547.8,633.7 548.8,633.1C549.8,632.4 550.8,629.7 551.8,628.1C552.8,626.4 553.7,624.3 554.7,623.1C555.7,622.0 556.6,621.3 557.7,621.2C558.9,621.0 560.5,621.0 561.7,622.1C562.8,623.3 563.7,625.8 564.7,628.1C565.7,630.4 566.6,633.1 567.6,636.0C568.6,639.0 569.6,643.0 570.6,646.0C571.6,648.9 572.7,652.2 573.6,653.9C574.5,655.5 575.1,656.5 576.0,655.9C576.8,655.2 577.6,652.2 578.5,649.9C579.5,647.6 580.5,644.6 581.5,642.0C582.5,639.3 583.5,636.4 584.5,634.0C585.5,631.7 586.5,630.4 587.5,628.1C588.5,625.8 589.5,622.5 590.5,620.2C591.4,617.8 592.6,615.4 593.4,614.2C594.3,613.0 594.6,612.6 595.4,613.2C596.2,613.9 597.4,615.7 598.4,618.2C599.4,620.7 600.4,625.8 601.4,628.1C602.4,630.4 603.3,631.4 604.3,632.1C605.3,632.7 606.3,632.4 607.3,632.1C608.3,631.7 609.3,630.7 610.3,630.1C611.3,629.4 612.3,629.1 613.3,628.1C614.3,627.1 615.3,623.8 616.2,624.1C617.2,624.5 618.2,627.8 619.2,630.1C620.2,632.4 621.2,635.0 622.2,638.0C623.2,641.0 624.2,645.0 625.2,647.9C626.2,650.9 627.3,654.2 628.2,655.9C629.0,657.5 629.3,658.2 630.1,657.9C631.0,657.5 632.1,655.9 633.1,653.9C634.1,651.9 635.1,648.9 636.1,646.0C637.1,643.0 638.2,639.3 639.1,636.0C639.9,632.7 640.2,630.1 641.0,626.1C641.9,622.1 643.0,616.0 644.0,612.2C645.0,608.4 646.0,603.6 647.0,603.3C648.0,603.0 649.0,606.8 650.0,610.2C651.0,613.7 652.0,619.8 653.0,624.1C653.9,628.4 654.9,632.7 655.9,636.0C656.9,639.3 658.1,642.3 658.9,644.0C659.7,645.6 660.1,646.6 660.9,646.0C661.7,645.3 662.9,642.6 663.9,640.0C664.9,637.4 666.0,631.9 666.8,630.1C667.7,628.3 668.0,628.8 668.8,629.1C669.7,629.4 670.8,630.2 671.8,632.1C672.8,633.9 673.8,637.0 674.8,640.0C675.8,643.0 676.8,646.9 677.8,649.9C678.7,652.9 679.7,655.9 680.7,657.9C681.7,659.8 682.7,660.8 683.7,661.8C684.7,662.8 685.7,664.5 686.7,663.8C687.7,663.1 688.7,662.2 689.7,657.9C690.7,653.6 691.8,644.3 692.6,638.0C693.5,631.7 693.8,625.4 694.6,620.2C695.4,614.9 696.7,609.1 697.6,606.3C698.5,603.5 699.3,603.0 700.2,603.3C701.0,603.6 701.7,605.1 702.6,608.3C703.4,611.4 704.5,616.9 705.5,622.1C706.5,627.4 707.7,634.7 708.5,640.0C709.3,645.3 709.8,650.3 710.5,653.9C711.2,657.5 711.6,662.5 712.5,661.8C713.3,661.2 714.5,652.9 715.5,649.9C716.4,646.9 717.4,645.3 718.4,644.0C719.4,642.6 720.4,642.5 721.4,642.0C722.4,641.5 723.4,640.3 724.4,641.0C725.4,641.7 726.4,644.1 727.4,646.0C728.3,647.8 729.3,649.9 730.3,651.9C731.3,653.9 732.3,655.5 733.3,657.9C734.3,660.2 735.3,663.5 736.3,665.8C737.3,668.1 738.3,672.1 739.3,671.7C740.3,671.4 741.2,668.1 742.2,663.8C743.2,659.5 744.2,652.2 745.2,646.0C746.2,639.7 747.0,629.9 748.2,626.1C749.3,622.3 751.5,623.6 752.2,623.1" fill="none" stroke="#D95319" stroke-width="3.6" stroke-linejoin="round" stroke-linecap="round"/><line x1="80.5" x2="750.5" y1="594.60" y2="594.60" stroke="#EDB120" stroke-width="1.1" opacity="0.72"/><circle cx="545.2" cy="524.9" r="6.8" fill="#EE1D25"/><circle cx="700.6" cy="588.8" r="6.8" fill="#EE1D25"/><circle cx="699.2" cy="590.0" r="6.8" fill="#EE1D25"/><text transform="translate(71.70,708.47) scale(1,1.04)" font-size="22.6" fill="#262626" text-anchor="end">-0.4</text><text transform="translate(71.70,665.36) scale(1,1.04)" font-size="22.6" fill="#262626" text-anchor="end">0</text><text transform="translate(71.70,622.25) scale(1,1.04)" font-size="22.6" fill="#262626" text-anchor="end">0.4</text><text transform="translate(71.70,579.14) scale(1,1.04)" font-size="22.6" fill="#262626" text-anchor="end">0.8</text><text transform="translate(71.70,536.03) scale(1,1.04)" font-size="22.6" fill="#262626" text-anchor="end">1.2</text><text transform="translate(415.50,510.30) scale(1,1.04)" font-size="22.6" fill="#000" font-weight="bold" text-anchor="middle">Charleston</text><text transform="translate(21.50,613.50) rotate(-90) scale(1,1.04)" font-size="22.6" fill="#262626" text-anchor="middle">Water Level (m)</text><text transform="translate(88.90,546.90) scale(1,1.03)" font-size="29.5" fill="#000" font-weight="bold">C</text></g>
<g><clipPath id="cD"><rect x="862.5" y="516.5" width="670.0" height="194.0"/></clipPath><clipPath id="gD"><rect x="862.5" y="516.5" width="670.0" height="197.0"/></clipPath><path d="M862.4 516.0H1533.4M862.4 710.3H1533.4M862.9 516.0V710.3M1532.9 516.0V710.3" fill="none" stroke="#262626" stroke-width="1.05"/><path d="M919.5 710.5v-6.7M919.5 516.5v6.7M971.5 710.5v-6.7M971.5 516.5v6.7M1028.5 710.5v-6.7M1028.5 516.5v6.7M1083.5 710.5v-6.7M1083.5 516.5v6.7M1140.5 710.5v-6.7M1140.5 516.5v6.7M1195.5 710.5v-6.7M1195.5 516.5v6.7M1252.5 710.5v-6.7M1252.5 516.5v6.7M1309.5 710.5v-6.7M1309.5 516.5v6.7M1364.5 710.5v-6.7M1364.5 516.5v6.7M1421.5 710.5v-6.7M1421.5 516.5v6.7M1476.5 710.5v-6.7M1476.5 516.5v6.7M862.5 698.5h6.7M1532.5 698.5h-6.7M862.5 649.5h6.7M1532.5 649.5h-6.7M862.5 601.5h6.7M1532.5 601.5h-6.7M862.5 552.5h6.7M1532.5 552.5h-6.7" stroke="#262626" stroke-width="1" fill="none"/><polyline clip-path="url(#cD)" points="862.4,612.2 865.0,614.2 866.9,622.1 868.9,630.1 870.9,634.0 872.3,653.9 873.9,663.8 875.5,638.0 876.9,614.2 878.8,616.2 880.8,610.2 882.8,602.3 884.8,610.2 886.8,614.2 888.8,612.2 890.2,618.2 891.7,618.2 893.3,628.1 895.3,620.2 897.7,614.2 899.7,606.3 901.1,604.3 902.1,626.1 902.7,681.7 903.7,711.4 905.2,653.9 906.6,628.1 908.0,634.0 909.6,644.0 911.2,655.9 912.6,642.0 914.6,663.8 916.0,693.6 917.5,667.8 919.5,655.9 921.5,647.9 923.1,659.8 924.5,642.0 926.1,622.1 927.9,638.0 929.4,634.0 931.4,646.0 933.4,634.0 935.4,642.0 937.0,624.1 939.0,638.0 940.4,649.9 942.3,630.1 944.3,642.0 946.3,653.9 947.3,665.8 948.9,634.0 951.3,628.1 953.3,630.1 954.8,620.2 956.2,636.0 957.6,651.9 959.2,638.0 961.2,612.2 963.2,618.2 964.8,628.1 966.7,612.2 968.7,618.2 970.7,622.1 972.7,642.0 974.7,614.2 976.7,598.3 978.7,594.4 981.4,600.3 984.0,596.3 986.0,610.2 988.0,624.1 989.4,642.0 991.3,614.2 993.3,638.0 994.9,644.0 996.9,624.1 998.9,626.1 1000.9,634.0 1002.9,644.0 1005.8,646.0 1007.8,647.9 1009.8,649.9 1011.8,634.0 1013.2,610.2 1014.8,596.3 1016.3,632.1 1017.7,616.2 1019.7,598.3 1021.1,586.4 1022.7,590.4 1024.7,590.4 1026.3,614.2 1027.7,594.4 1029.0,592.4 1030.2,596.3 1031.6,592.4 1033.0,622.1 1034.6,618.2 1036.0,653.9 1037.2,673.7 1038.6,653.9 1040.6,638.0 1042.5,614.2 1044.5,622.1 1046.5,620.2 1048.5,618.2 1050.5,616.2 1052.5,614.2 1054.4,606.3 1056.4,610.2 1058.4,602.3 1060.4,598.3 1062.4,596.3 1064.4,600.3 1066.3,608.3 1068.3,624.1 1069.9,636.0 1071.3,618.2 1073.3,592.4 1075.3,594.4 1077.3,590.4 1078.3,570.6 1079.8,560.6 1081.2,588.4 1082.6,606.3 1084.2,604.3 1086.2,588.4 1088.2,594.4 1089.5,606.3 1090.3,665.8 1091.9,653.9 1093.9,642.0 1095.9,634.0 1097.9,620.2 1099.9,618.2 1101.8,620.2 1103.8,634.0 1105.4,651.9 1106.8,634.0 1108.8,626.1 1110.8,610.2 1112.2,594.4 1113.7,596.3 1115.3,598.3 1116.9,594.4 1118.7,602.3 1120.7,602.3 1121.7,582.5 1122.7,598.3 1124.1,618.2 1125.7,644.0 1127.2,626.1 1128.6,612.2 1130.6,614.2 1132.6,618.2 1134.6,602.3 1136.6,618.2 1138.5,622.1 1140.5,624.1 1142.5,620.2 1144.5,622.1 1145.9,604.3 1147.5,604.3 1149.5,622.1 1151.0,626.1 1153.0,616.2 1155.0,608.3 1157.0,602.3 1159.0,594.4 1160.4,590.4 1162.4,596.3 1164.3,608.3 1166.3,622.1 1168.3,623.1 1170.3,622.1 1172.3,625.1 1173.7,604.3 1175.3,566.6 1176.8,568.6 1178.2,590.4 1180.2,594.4 1182.2,606.3 1184.2,610.2 1186.2,598.3 1189.1,588.4 1191.1,596.3 1193.1,608.3 1195.1,626.1 1196.7,634.0 1198.1,626.1 1200.1,626.1 1202.0,623.1 1204.0,628.1 1206.0,626.1 1208.0,630.1 1210.0,634.0 1212.0,624.1 1213.9,624.1 1215.9,630.1 1217.9,632.1 1219.9,630.1 1221.9,626.1 1223.9,628.1 1225.8,624.1 1227.8,628.1 1229.8,630.1 1231.8,628.1 1233.8,626.1 1234.8,634.0 1236.8,634.0 1238.7,636.0 1240.7,638.0 1242.7,642.0 1244.7,648.9 1247.7,648.9 1249.7,626.1 1251.6,600.3 1253.6,598.3 1255.6,610.2 1257.6,622.1 1259.6,618.2 1261.6,614.2 1263.5,612.2 1265.5,616.2 1267.5,618.2 1269.5,624.1 1271.5,632.1 1273.5,636.0 1275.5,630.1 1277.4,624.1 1279.4,618.2 1281.4,622.1 1283.4,628.1 1285.4,632.1 1287.4,626.1 1289.3,623.1 1291.3,626.1 1293.3,626.1 1294.7,608.3 1295.9,564.6 1297.3,542.8 1299.3,534.8 1301.2,538.8 1302.2,519.0 1303.2,521.0 1304.2,574.5 1305.8,614.2 1307.2,636.0 1309.2,614.2 1310.9,610.2 1312.9,608.3 1314.9,606.3 1316.9,610.2 1318.3,618.2 1319.9,602.3 1321.9,594.4 1323.8,592.4 1325.8,592.4 1327.4,602.3 1328.8,610.2 1330.8,620.2 1332.8,614.2 1334.2,590.4 1335.7,602.3 1336.7,616.2 1338.7,614.2 1340.7,610.2 1342.7,608.3 1344.7,614.2 1346.7,620.2 1348.6,614.2 1350.6,606.3 1352.6,598.3 1354.6,592.4 1356.6,596.3 1358.6,598.3 1360.5,600.3 1362.5,610.2 1363.9,612.2 1365.1,580.5 1366.5,572.5 1368.5,564.6 1370.5,568.6 1372.5,574.5 1374.4,572.5 1376.4,570.6 1378.4,574.5 1380.4,574.5 1381.8,598.3 1383.0,602.3 1385.0,592.4 1386.9,588.4 1388.9,594.4 1391.3,612.2 1392.9,602.3 1394.9,586.4 1396.9,582.5 1398.2,580.5 1400.2,574.5 1402.2,580.5 1403.2,608.3 1404.2,594.4 1405.2,604.3 1406.8,602.3 1407.6,651.9 1409.2,638.0 1410.7,614.2 1412.1,612.2 1413.5,671.7 1414.7,651.9 1416.1,634.0 1418.1,630.1 1421.1,628.1 1424.0,624.1 1426.0,620.2 1428.0,618.2 1430.0,622.1 1432.0,614.2 1434.0,618.2 1435.9,612.2 1437.9,608.3 1439.9,608.3 1441.9,608.3 1443.9,610.2 1445.9,612.2 1447.8,610.2 1449.8,616.2 1451.8,618.2 1453.8,626.1 1455.8,608.3 1457.8,600.3 1459.8,598.3 1461.1,626.1 1462.7,618.2 1464.7,620.2 1466.7,634.0 1468.7,638.0 1470.7,620.2 1472.7,628.1 1474.2,640.0 1476.2,630.1 1478.2,626.1 1480.2,614.2 1482.2,608.3 1484.6,610.2 1486.5,614.2 1488.5,618.2 1490.5,626.1 1491.5,661.8 1493.5,663.8 1495.5,675.7 1497.5,665.8 1499.4,651.9 1501.4,646.0 1503.4,640.0 1504.4,606.3 1505.4,590.4 1506.8,610.2 1508.4,630.1 1510.3,626.1 1512.3,644.0 1514.3,630.1 1516.3,630.1 1518.3,655.9 1520.3,638.0 1521.9,612.2 1523.2,622.1 1524.6,638.0 1526.6,642.0 1529.2,640.0 1531.2,634.0 1535.2,632.1" fill="none" stroke="#0072BD" stroke-width="3.6" stroke-linejoin="round" stroke-linecap="round"/><path clip-path="url(#cD)" d="M862.4,628.1C863.0,628.8 864.9,630.6 866.0,632.1C867.0,633.6 867.9,635.9 868.9,637.0C869.9,638.2 870.9,639.5 871.9,639.0C872.9,638.5 873.7,636.2 874.9,634.0C876.0,631.9 877.7,627.8 878.8,626.1C880.0,624.5 880.7,623.8 881.8,624.1C883.0,624.5 884.5,626.1 885.8,628.1C887.1,630.1 888.4,633.7 889.8,636.0C891.1,638.3 892.6,640.8 893.7,642.0C894.9,643.1 895.5,643.6 896.7,643.0C897.9,642.3 899.4,639.7 900.7,638.0C902.0,636.4 903.2,634.4 904.6,633.1C906.1,631.7 908.1,629.9 909.6,630.1C911.1,630.2 912.2,632.4 913.6,634.0C914.9,635.7 916.2,638.8 917.5,640.0C918.9,641.2 920.2,642.0 921.5,641.0C922.8,640.0 924.2,636.5 925.5,634.0C926.8,631.6 928.1,627.8 929.4,626.1C930.8,624.5 932.1,623.8 933.4,624.1C934.7,624.5 936.1,626.1 937.4,628.1C938.7,630.1 940.0,634.2 941.3,636.0C942.7,637.9 944.0,639.3 945.3,639.0C946.6,638.7 948.0,635.9 949.3,634.0C950.6,632.2 951.9,629.7 953.3,628.1C954.6,626.4 955.9,625.0 957.2,624.1C958.5,623.3 959.9,623.0 961.2,623.1C962.5,623.3 963.8,624.1 965.2,625.1C966.5,626.1 968.0,628.4 969.1,629.1C970.3,629.7 971.1,630.2 972.1,629.1C973.1,627.9 973.9,624.5 975.1,622.1C976.2,619.8 977.7,616.7 979.0,615.2C980.4,613.7 981.7,612.9 983.0,613.2C984.3,613.5 985.7,615.9 987.0,617.2C988.3,618.5 989.6,620.3 991.0,621.2C992.3,622.0 993.6,622.3 994.9,622.1C996.2,622.0 997.6,621.3 998.9,620.2C1000.2,619.0 1001.5,616.5 1002.9,615.2C1004.2,613.9 1005.5,613.0 1006.8,612.2C1008.1,611.4 1009.5,610.2 1010.8,610.2C1012.1,610.2 1013.6,611.4 1014.8,612.2C1015.9,613.0 1016.7,615.2 1017.7,615.2C1018.7,615.2 1019.7,613.4 1020.7,612.2C1021.7,611.1 1022.5,609.9 1023.7,608.3C1024.8,606.6 1026.3,603.6 1027.7,602.3C1029.0,601.0 1030.3,600.2 1031.6,600.3C1032.9,600.5 1034.4,601.8 1035.6,603.3C1036.8,604.8 1037.4,607.8 1038.6,609.2C1039.7,610.7 1041.2,612.4 1042.5,612.2C1043.9,612.1 1045.2,609.4 1046.5,608.3C1047.8,607.1 1049.2,606.1 1050.5,605.3C1051.8,604.5 1053.1,603.8 1054.4,603.3C1055.8,602.8 1057.1,602.6 1058.4,602.3C1059.7,602.0 1061.1,600.8 1062.4,601.3C1063.7,601.8 1065.2,604.0 1066.3,605.3C1067.5,606.6 1068.3,609.2 1069.3,609.2C1070.3,609.2 1071.3,607.1 1072.3,605.3C1073.3,603.5 1074.1,600.2 1075.3,598.3C1076.4,596.5 1077.9,594.7 1079.2,594.4C1080.6,594.0 1081.9,595.4 1083.2,596.3C1084.5,597.3 1086.1,598.3 1087.2,600.3C1088.3,602.3 1088.8,606.3 1089.9,608.3C1091.1,610.2 1092.6,612.6 1093.9,612.2C1095.2,611.9 1096.6,607.9 1097.9,606.3C1099.2,604.6 1100.4,603.3 1101.8,602.3C1103.3,601.3 1105.1,600.3 1106.8,600.3C1108.5,600.3 1110.3,601.3 1111.8,602.3C1113.2,603.3 1114.4,604.6 1115.7,606.3C1117.1,607.9 1118.4,612.6 1119.7,612.2C1121.0,611.9 1122.3,606.6 1123.7,604.3C1125.0,602.0 1126.3,599.7 1127.6,598.3C1129.0,597.0 1130.3,596.0 1131.6,596.3C1132.9,596.7 1134.2,598.3 1135.6,600.3C1136.9,602.3 1138.2,605.8 1139.5,608.3C1140.9,610.7 1142.2,614.5 1143.5,615.2C1144.8,615.9 1146.2,613.4 1147.5,612.2C1148.8,611.1 1150.0,609.2 1151.4,608.3C1152.9,607.3 1154.8,606.4 1156.4,606.3C1158.1,606.1 1159.9,606.3 1161.4,607.3C1162.9,608.3 1164.0,610.6 1165.3,612.2C1166.7,613.9 1168.1,616.2 1169.3,617.2C1170.5,618.2 1171.1,619.0 1172.3,618.2C1173.4,617.3 1174.9,614.4 1176.2,612.2C1177.6,610.1 1179.2,606.8 1180.2,605.3C1181.2,603.8 1181.4,603.1 1182.2,603.3C1183.0,603.5 1184.0,604.5 1185.2,606.3C1186.3,608.1 1187.8,611.9 1189.1,614.2C1190.5,616.5 1192.0,618.8 1193.1,620.2C1194.3,621.5 1194.9,622.5 1196.1,622.1C1197.2,621.8 1198.7,619.5 1200.1,618.2C1201.4,616.9 1202.7,615.2 1204.0,614.2C1205.3,613.2 1206.5,612.4 1208.0,612.2C1209.5,612.1 1211.5,612.6 1213.0,613.2C1214.4,613.9 1215.6,615.0 1216.9,616.2C1218.2,617.3 1219.6,620.5 1220.9,620.2C1222.2,619.8 1223.5,616.2 1224.9,614.2C1226.2,612.2 1227.5,609.7 1228.8,608.3C1230.1,606.8 1231.5,604.9 1232.8,605.3C1234.1,605.6 1235.4,608.4 1236.8,610.2C1238.1,612.1 1239.4,614.5 1240.7,616.2C1242.1,617.8 1243.4,620.2 1244.7,620.2C1246.0,620.2 1247.3,617.5 1248.7,616.2C1250.0,614.9 1251.3,613.5 1252.6,612.2C1254.0,610.9 1255.3,609.1 1256.6,608.3C1257.9,607.4 1259.2,607.3 1260.6,607.3C1261.9,607.3 1263.2,607.4 1264.5,608.3C1265.9,609.1 1267.4,611.1 1268.5,612.2C1269.7,613.4 1270.5,615.2 1271.5,615.2C1272.5,615.2 1273.3,614.0 1274.5,612.2C1275.6,610.4 1277.1,606.6 1278.4,604.3C1279.8,602.0 1281.1,599.2 1282.4,598.3C1283.7,597.5 1285.0,598.0 1286.4,599.3C1287.7,600.6 1289.0,604.3 1290.3,606.3C1291.7,608.3 1293.0,610.9 1294.3,611.2C1295.6,611.6 1296.9,609.7 1298.3,608.3C1299.6,606.8 1300.9,604.1 1302.2,602.3C1303.6,600.5 1304.9,598.3 1306.2,597.3C1307.5,596.3 1309.2,596.0 1310.2,596.3C1311.1,596.7 1311.0,598.3 1311.9,599.3C1312.9,600.3 1314.6,601.3 1315.9,602.3C1317.2,603.3 1318.7,604.9 1319.9,605.3C1321.0,605.6 1321.9,605.4 1322.8,604.3C1323.8,603.1 1324.7,600.6 1325.8,598.3C1327.0,596.0 1328.5,592.2 1329.8,590.4C1331.1,588.6 1332.2,587.4 1333.4,587.4C1334.5,587.4 1335.5,588.7 1336.7,590.4C1338.0,592.1 1339.4,595.7 1340.7,597.3C1342.0,599.0 1343.4,600.2 1344.7,600.3C1346.0,600.5 1347.3,599.3 1348.6,598.3C1350.0,597.3 1351.3,595.7 1352.6,594.4C1353.9,593.0 1355.4,591.2 1356.6,590.4C1357.7,589.6 1358.4,589.1 1359.6,589.4C1360.7,589.7 1362.2,591.2 1363.5,592.4C1364.8,593.5 1366.2,595.2 1367.5,596.3C1368.8,597.5 1370.1,599.7 1371.5,599.3C1372.8,599.0 1374.1,596.2 1375.4,594.4C1376.8,592.5 1378.2,590.2 1379.4,588.4C1380.6,586.6 1381.4,584.4 1382.4,583.5C1383.4,582.5 1384.4,581.6 1385.3,582.5C1386.3,583.3 1387.3,586.4 1388.3,588.4C1389.3,590.4 1390.1,592.5 1391.3,594.4C1392.5,596.2 1393.9,599.0 1395.3,599.3C1396.6,599.7 1397.9,597.5 1399.2,596.3C1400.6,595.2 1401.9,593.4 1403.2,592.4C1404.5,591.4 1405.9,590.6 1407.2,590.4C1408.5,590.2 1409.8,590.4 1411.1,591.4C1412.5,592.4 1413.8,594.7 1415.1,596.3C1416.4,598.0 1417.8,600.2 1419.1,601.3C1420.3,602.5 1421.5,603.8 1422.7,603.3C1423.8,602.8 1424.8,600.2 1426.0,598.3C1427.2,596.5 1428.8,594.0 1430.0,592.4C1431.2,590.7 1432.2,588.4 1433.4,588.4C1434.5,588.4 1435.7,590.4 1436.9,592.4C1438.2,594.4 1439.6,598.0 1440.9,600.3C1442.2,602.6 1443.7,604.9 1444.9,606.3C1446.0,607.6 1446.7,608.4 1447.8,608.3C1449.0,608.1 1450.5,606.1 1451.8,605.3C1453.1,604.5 1454.5,603.8 1455.8,603.3C1457.1,602.8 1458.4,602.0 1459.8,602.3C1461.1,602.6 1462.4,603.6 1463.7,605.3C1465.0,606.9 1466.2,610.1 1467.7,612.2C1469.2,614.4 1471.2,618.0 1472.7,618.2C1474.1,618.3 1475.3,615.0 1476.6,613.2C1477.9,611.4 1479.4,608.6 1480.6,607.3C1481.7,605.9 1482.4,604.8 1483.6,605.3C1484.7,605.8 1486.2,608.1 1487.5,610.2C1488.9,612.4 1490.2,615.7 1491.5,618.2C1492.8,620.7 1494.1,624.0 1495.5,625.1C1496.8,626.3 1498.1,625.6 1499.4,625.1C1500.8,624.6 1502.1,623.1 1503.4,622.1C1504.7,621.2 1506.1,619.5 1507.4,619.2C1508.7,618.8 1510.0,619.3 1511.3,620.2C1512.7,621.0 1514.0,622.6 1515.3,624.1C1516.6,625.6 1518.0,627.4 1519.3,629.1C1520.6,630.7 1521.9,633.9 1523.2,634.0C1524.6,634.2 1525.9,631.6 1527.2,630.1C1528.5,628.6 1529.9,626.3 1531.2,625.1C1532.5,624.0 1534.5,623.5 1535.2,623.1" fill="none" stroke="#D95319" stroke-width="3.6" stroke-linejoin="round" stroke-linecap="round"/><line x1="862.5" x2="1532.5" y1="587.40" y2="587.40" stroke="#EDB120" stroke-width="1.1" opacity="0.72"/><circle cx="1021.7" cy="582.5" r="6.8" fill="#EE1D25"/><circle cx="1029.0" cy="583.5" r="6.8" fill="#EE1D25"/><circle cx="1031.0" cy="585.4" r="6.8" fill="#EE1D25"/><circle cx="1079.2" cy="552.7" r="6.8" fill="#EE1D25"/><circle cx="1081.2" cy="556.7" r="6.8" fill="#EE1D25"/><circle cx="1121.7" cy="576.5" r="6.8" fill="#EE1D25"/><circle cx="1176.8" cy="561.6" r="6.8" fill="#EE1D25"/><circle cx="1179.2" cy="582.5" r="6.8" fill="#EE1D25"/><circle cx="1303.2" cy="517.0" r="6.8" fill="#EE1D25"/><circle cx="1299.3" cy="530.9" r="6.8" fill="#EE1D25"/><circle cx="1300.3" cy="536.8" r="6.8" fill="#EE1D25"/><circle cx="1298.3" cy="537.8" r="6.8" fill="#EE1D25"/><circle cx="1295.9" cy="567.0" r="6.8" fill="#EE1D25"/><circle cx="1305.2" cy="584.0" r="6.8" fill="#EE1D25"/><circle cx="1369.5" cy="552.7" r="6.8" fill="#EE1D25"/><circle cx="1367.1" cy="558.7" r="6.8" fill="#EE1D25"/><circle cx="1374.4" cy="559.6" r="6.8" fill="#EE1D25"/><circle cx="1378.4" cy="562.6" r="6.8" fill="#EE1D25"/><circle cx="1380.4" cy="567.6" r="6.8" fill="#EE1D25"/><circle cx="1364.5" cy="571.5" r="6.8" fill="#EE1D25"/><circle cx="1370.5" cy="571.5" r="6.8" fill="#EE1D25"/><circle cx="1372.5" cy="569.6" r="6.8" fill="#EE1D25"/><circle cx="1388.3" cy="586.4" r="6.8" fill="#EE1D25"/><circle cx="1390.3" cy="584.4" r="6.8" fill="#EE1D25"/><circle cx="1400.2" cy="567.6" r="6.8" fill="#EE1D25"/><circle cx="1401.2" cy="575.5" r="6.8" fill="#EE1D25"/><circle cx="1398.2" cy="576.5" r="6.8" fill="#EE1D25"/><text transform="translate(853.70,707.12) scale(1,1.04)" font-size="22.6" fill="#262626" text-anchor="end">-0.4</text><text transform="translate(853.70,658.62) scale(1,1.04)" font-size="22.6" fill="#262626" text-anchor="end">0</text><text transform="translate(853.70,610.12) scale(1,1.04)" font-size="22.6" fill="#262626" text-anchor="end">0.4</text><text transform="translate(853.70,561.62) scale(1,1.04)" font-size="22.6" fill="#262626" text-anchor="end">0.8</text><text transform="translate(1197.50,510.30) scale(1,1.04)" font-size="22.6" fill="#000" font-weight="bold" text-anchor="middle">Eagle Point</text><text transform="translate(803.50,613.50) rotate(-90) scale(1,1.04)" font-size="22.6" fill="#262626" text-anchor="middle">Water Level (m)</text><text transform="translate(869.40,545.90) scale(1,1.03)" font-size="29.5" fill="#000" font-weight="bold">D</text></g>
<g><clipPath id="cG"><rect x="80.5" y="724.5" width="670.0" height="194.0"/></clipPath><clipPath id="gG"><rect x="80.5" y="724.5" width="670.0" height="197.0"/></clipPath><path d="M80.4 724.0H751.4M80.4 918.3H751.4M80.9 724.0V918.3M750.9 724.0V918.3" fill="none" stroke="#262626" stroke-width="1.05"/><path d="M189.5 918.5v-6.7M189.5 724.5v6.7M301.5 918.5v-6.7M301.5 724.5v6.7M413.5 918.5v-6.7M413.5 724.5v6.7M527.5 918.5v-6.7M527.5 724.5v6.7M639.5 918.5v-6.7M639.5 724.5v6.7M80.5 879.5h6.7M750.5 879.5h-6.7M80.5 840.5h6.7M750.5 840.5h-6.7M80.5 802.5h6.7M750.5 802.5h-6.7M80.5 763.5h6.7M750.5 763.5h-6.7" stroke="#262626" stroke-width="1" fill="none"/><polyline clip-path="url(#gG)" points="80.5,919.0 94.0,919.0 94.5,918.9 95.0,918.9 95.5,918.8 96.0,918.8 96.5,918.6 97.0,918.5 97.5,918.3 98.0,918.1 98.5,917.9 99.0,917.7 99.5,917.5 100.0,917.4 100.5,917.3 101.0,917.3 101.5,917.3 102.0,917.5 102.5,917.6 103.0,917.8 103.5,918.0 104.0,918.2 104.5,918.4 105.0,918.6 105.5,918.7 106.0,918.8 106.5,918.9 107.0,918.9 107.5,918.9 108.0,919.0 147.0,919.0 147.5,918.9 148.0,918.9 148.5,918.9 149.0,918.8 149.5,918.7 150.0,918.6 150.5,918.5 151.0,918.4 151.5,918.3 152.0,918.2 152.5,918.1 153.0,918.0 153.5,918.0 154.0,918.0 154.5,918.1 155.0,918.2 155.5,918.3 156.0,918.4 156.5,918.5 157.0,918.6 157.5,918.7 158.0,918.8 158.5,918.9 159.0,918.9 159.5,918.9 160.0,919.0 236.0,919.0 236.5,918.9 237.0,918.9 237.5,918.7 238.0,918.6 238.5,918.3 239.0,918.0 239.5,917.5 240.0,917.1 240.5,916.6 241.0,916.2 241.5,915.9 242.0,915.8 242.5,915.9 243.0,916.2 243.5,916.6 244.0,917.1 244.5,917.5 245.0,918.0 245.5,918.3 246.0,918.6 246.5,918.7 247.0,918.9 247.5,918.9 248.0,919.0 288.0,919.0 288.5,918.9 289.0,918.8 289.5,918.7 290.0,918.4 290.5,917.9 291.0,917.1 291.5,916.0 292.0,914.5 292.5,912.8 293.0,910.8 293.5,909.0 294.0,907.4 294.5,906.5 295.0,906.2 295.5,906.8 296.0,908.0 296.5,909.7 297.0,911.6 297.5,913.5 298.0,915.1 298.5,916.5 299.0,917.4 299.5,918.1 300.0,918.5 300.5,918.7 301.0,918.9 301.5,918.9 302.0,919.0 340.0,919.0 340.5,918.9 341.0,918.9 341.5,918.7 342.0,918.5 342.5,918.1 343.0,917.5 343.5,916.6 344.0,915.3 344.5,913.6 345.0,911.5 345.5,909.0 346.0,906.3 346.5,903.5 347.0,901.1 347.5,899.2 348.0,898.2 348.5,898.1 349.0,899.0 349.5,900.7 350.0,903.0 350.5,905.7 351.0,908.5 351.5,911.0 352.0,913.2 352.5,915.0 353.0,916.4 353.5,917.4 354.0,918.0 354.5,918.4 355.0,918.7 355.5,918.8 356.0,918.9 356.5,919.0 391.5,919.0 392.0,918.9 392.5,918.8 393.0,918.5 393.5,918.1 394.0,917.3 394.5,916.1 395.0,914.7 395.5,913.3 396.0,912.3 396.5,911.7 397.0,911.8 397.5,912.2 398.0,912.5 398.5,912.3 399.0,911.2 399.5,909.1 400.0,906.5 400.5,903.7 401.0,901.5 401.5,900.3 402.0,900.5 402.5,902.0 403.0,904.5 403.5,907.6 404.0,910.7 404.5,913.4 405.0,915.5 405.5,917.0 406.0,917.9 406.5,918.5 407.0,918.8 407.5,918.9 408.0,919.0 447.5,919.0 448.0,918.9 448.5,918.9 449.0,918.8 449.5,918.6 450.0,918.3 450.5,917.9 451.0,917.3 451.5,916.7 452.0,915.9 452.5,915.2 453.0,914.7 453.5,914.3 454.0,914.2 454.5,914.4 455.0,914.9 455.5,915.5 456.0,916.2 456.5,916.9 457.0,917.6 457.5,918.1 458.0,918.4 458.5,918.7 459.0,918.8 459.5,918.9 460.0,919.0 502.0,919.0 502.5,918.9 503.0,918.8 503.5,918.5 504.0,918.1 504.5,917.5 505.0,916.7 505.5,915.9 506.0,915.3 506.5,915.0 507.0,915.1 507.5,915.7 508.0,916.4 508.5,917.2 509.0,917.9 509.5,918.4 510.0,918.7 510.5,918.9 511.0,918.9 511.5,919.0 551.5,919.0 552.0,918.9 552.5,918.9 553.0,918.7 553.5,918.4 554.0,917.8 554.5,917.0 555.0,915.9 555.5,914.6 556.0,913.4 556.5,912.5 557.0,912.1 557.5,912.3 558.0,912.9 558.5,913.7 559.0,914.2 559.5,914.4 560.0,914.0 560.5,913.2 561.0,912.5 561.5,912.1 562.0,912.3 562.5,913.0 563.0,914.1 563.5,915.4 564.0,916.6 564.5,917.5 565.0,918.2 565.5,918.6 566.0,918.8 566.5,918.9 567.0,919.0 587.5,919.0 588.0,918.9 588.5,918.8 589.0,918.6 589.5,918.3 590.0,917.6 590.5,916.7 591.0,915.3 591.5,913.5 592.0,911.2 592.5,908.7 593.0,906.2 593.5,904.0 594.0,902.5 594.5,902.0 595.0,902.5 595.5,904.0 596.0,906.2 596.5,908.7 597.0,911.2 597.5,913.5 598.0,915.3 598.5,916.7 599.0,917.6 599.5,918.3 600.0,918.6 600.5,918.8 601.0,918.9 601.5,919.0 610.5,919.0 611.0,918.9 611.5,918.9 612.0,918.7 612.5,918.5 613.0,918.1 613.5,917.6 614.0,916.9 614.5,916.3 615.0,915.8 615.5,915.6 616.0,915.7 616.5,916.1 617.0,916.7 617.5,917.3 618.0,917.9 618.5,918.3 619.0,918.6 619.5,918.8 620.0,918.9 620.5,919.0 639.5,919.0 640.0,918.9 640.5,918.7 641.0,918.4 641.5,917.7 642.0,916.5 642.5,914.4 643.0,911.3 643.5,907.0 644.0,901.8 644.5,896.1 645.0,890.8 645.5,886.8 646.0,885.1 646.5,885.8 647.0,889.0 647.5,893.9 648.0,899.5 648.5,905.0 649.0,909.7 649.5,913.3 650.0,915.7 650.5,917.3 651.0,918.2 651.5,918.6 652.0,918.8 652.5,918.9 653.0,919.0 691.5,919.0 692.0,918.9 692.5,918.8 693.0,918.6 693.5,918.2 694.0,917.5 694.5,916.4 695.0,914.7 695.5,912.3 696.0,909.2 696.5,905.6 697.0,901.7 697.5,898.0 698.0,895.0 698.5,893.3 699.0,893.1 699.5,894.5 700.0,897.3 700.5,900.9 701.0,904.8 701.5,908.5 702.0,911.8 702.5,914.3 703.0,916.1 703.5,917.4 704.0,918.1 704.5,918.6 705.0,918.8 705.5,918.9 706.0,919.0 743.5,919.0 744.0,918.9 744.5,918.9 745.0,918.7 745.5,918.5 746.0,918.2 746.5,917.8 747.0,917.4 747.5,917.1 748.0,917.0 748.5,917.1 749.0,917.4 749.5,917.8 750.0,918.2 750.5,918.5" fill="none" stroke="#5A8C3A" stroke-width="3.8" stroke-linejoin="round" stroke-linecap="round"/><line x1="80.5" x2="750.5" y1="908.70" y2="908.70" stroke="#D95319" stroke-width="1.1" opacity="0.72"/><circle cx="545.3" cy="917.7" r="6.8" fill="#EE1D25"/><circle cx="699.3" cy="888.0" r="6.8" fill="#EE1D25"/><circle cx="701.2" cy="894.5" r="6.8" fill="#EE1D25"/><text transform="translate(71.70,888.45) scale(1,1.04)" font-size="22.6" fill="#262626" text-anchor="end">0.2</text><text transform="translate(71.70,849.65) scale(1,1.04)" font-size="22.6" fill="#262626" text-anchor="end">0.4</text><text transform="translate(71.70,810.85) scale(1,1.04)" font-size="22.6" fill="#262626" text-anchor="end">0.6</text><text transform="translate(71.70,772.05) scale(1,1.04)" font-size="22.6" fill="#262626" text-anchor="end">0.8</text><text transform="translate(71.70,733.25) scale(1,1.04)" font-size="22.6" fill="#262626" text-anchor="end">1</text><text transform="translate(80.50,951.00) scale(1,1.04)" font-size="22.6" fill="#262626" text-anchor="middle">Jan</text><text transform="translate(188.80,951.00) scale(1,1.04)" font-size="22.6" fill="#262626" text-anchor="middle">Mar</text><text transform="translate(300.77,951.00) scale(1,1.04)" font-size="22.6" fill="#262626" text-anchor="middle">May</text><text transform="translate(412.75,951.00) scale(1,1.04)" font-size="22.6" fill="#262626" text-anchor="middle">Jul</text><text transform="translate(526.55,951.00) scale(1,1.04)" font-size="22.6" fill="#262626" text-anchor="middle">Sep</text><text transform="translate(638.53,951.00) scale(1,1.04)" font-size="22.6" fill="#262626" text-anchor="middle">Nov</text><text transform="translate(415.50,981.00) scale(1,1.04)" font-size="22.6" fill="#262626" text-anchor="middle">Day in 2017</text><text transform="translate(19.10,821.50) rotate(-90) scale(1,1.04)" font-size="22.6" fill="#262626" text-anchor="middle">HTF Likelihood</text><text transform="translate(88.90,753.50) scale(1,1.03)" font-size="29.5" fill="#000" font-weight="bold">G</text></g>
<g><clipPath id="cH"><rect x="862.5" y="724.5" width="670.0" height="194.0"/></clipPath><clipPath id="gH"><rect x="862.5" y="724.5" width="670.0" height="197.0"/></clipPath><path d="M862.4 724.0H1533.4M862.4 918.3H1533.4M862.9 724.0V918.3M1532.9 724.0V918.3" fill="none" stroke="#262626" stroke-width="1.05"/><path d="M971.5 918.5v-6.7M971.5 724.5v6.7M1083.5 918.5v-6.7M1083.5 724.5v6.7M1195.5 918.5v-6.7M1195.5 724.5v6.7M1309.5 918.5v-6.7M1309.5 724.5v6.7M1421.5 918.5v-6.7M1421.5 724.5v6.7M862.5 879.5h6.7M1532.5 879.5h-6.7M862.5 840.5h6.7M1532.5 840.5h-6.7M862.5 802.5h6.7M1532.5 802.5h-6.7M862.5 763.5h6.7M1532.5 763.5h-6.7" stroke="#262626" stroke-width="1" fill="none"/><path clip-path="url(#gH)" d="M862.2,917.7C863.7,917.6 867.7,917.5 871.1,917.2C874.4,917.0 878.4,916.0 882.1,916.1C885.8,916.2 889.5,917.5 893.2,917.7C896.9,917.9 900.6,917.2 904.3,917.2C908.0,917.2 911.6,917.7 915.3,917.7C919.0,917.6 922.7,916.8 926.4,916.8C930.1,916.8 933.8,917.6 937.5,917.7C941.2,917.7 944.8,917.4 948.5,917.2C952.2,917.1 955.7,916.8 959.6,916.8C963.5,916.8 969.2,917.5 971.8,917.2C974.4,916.9 973.8,915.7 975.1,915.0C976.4,914.4 978.0,913.4 979.5,913.2C981.0,913.1 982.1,913.2 983.9,913.9C985.8,914.6 988.4,916.7 990.6,917.2C992.8,917.7 995.4,917.3 997.2,916.8C999.1,916.2 1000.3,915.0 1001.7,913.9C1003.1,912.8 1004.2,910.4 1005.6,910.1C1007.1,909.9 1008.6,911.5 1010.5,912.1C1012.4,912.8 1015.3,913.8 1017.1,913.9C1019.0,914.0 1019.7,914.5 1021.6,912.8C1023.4,911.1 1026.4,906.2 1028.2,903.9C1030.1,901.7 1031.2,898.6 1032.6,899.5C1034.1,900.4 1035.4,907.2 1037.1,909.5C1038.7,911.8 1040.8,913.2 1042.6,913.5C1044.4,913.7 1046.3,912.2 1048.1,911.0C1050.0,909.8 1051.8,908.0 1053.7,906.2C1055.5,904.4 1057.4,900.2 1059.2,900.2C1061.0,900.2 1062.9,904.1 1064.7,906.2C1066.6,908.2 1068.6,912.7 1070.3,912.4C1071.9,912.0 1073.2,906.8 1074.7,903.9C1076.2,901.1 1077.6,896.9 1079.1,895.1C1080.6,893.3 1082.3,892.1 1083.6,892.9C1084.8,893.6 1085.8,896.6 1086.9,899.5C1088.0,902.5 1088.9,908.0 1090.2,910.6C1091.5,913.2 1093.1,914.6 1094.6,915.0C1096.1,915.4 1097.6,913.6 1099.0,912.8C1100.5,912.0 1101.8,910.8 1103.5,910.1C1105.1,909.5 1107.2,909.0 1109.0,909.0C1110.8,909.1 1112.9,909.6 1114.5,910.6C1116.2,911.6 1117.7,914.3 1119.0,915.0C1120.3,915.8 1121.0,915.9 1122.3,915.0C1123.6,914.1 1125.2,911.1 1126.7,909.5C1128.2,907.8 1129.7,905.1 1131.1,905.1C1132.6,905.1 1134.1,907.6 1135.6,909.5C1137.0,911.3 1138.3,914.9 1140.0,916.1C1141.7,917.3 1143.5,917.0 1145.5,916.8C1147.6,916.6 1149.8,915.4 1152.2,915.0C1154.6,914.6 1157.7,914.4 1159.9,914.6C1162.1,914.8 1163.4,915.6 1165.4,916.1C1167.5,916.6 1169.9,917.9 1172.1,917.7C1174.3,917.5 1176.6,915.4 1178.7,915.0C1180.8,914.7 1182.5,915.0 1184.6,915.6C1186.8,916.2 1188.5,918.1 1191.6,918.6C1194.7,919.1 1199.3,918.6 1203.2,918.6C1207.0,918.6 1210.9,918.6 1214.8,918.6C1218.6,918.6 1223.3,918.7 1226.3,918.6C1229.4,918.5 1231.0,917.9 1233.3,917.9C1235.6,917.9 1237.6,918.5 1240.3,918.6C1243.0,918.7 1246.0,918.6 1249.5,918.6C1253.0,918.6 1257.2,918.6 1261.1,918.6C1265.0,918.6 1269.2,918.8 1272.7,918.6C1276.2,918.4 1279.3,917.4 1282.0,917.4C1284.7,917.4 1286.6,918.4 1288.9,918.6C1291.2,918.7 1293.2,918.5 1295.9,918.4C1298.6,918.2 1303.2,921.1 1305.1,917.9C1307.1,914.7 1306.5,902.4 1307.5,899.4C1308.4,896.3 1309.6,899.2 1310.9,899.4C1312.3,899.5 1314.2,899.5 1315.6,900.5C1316.9,901.5 1318.1,905.7 1319.0,905.1C1320.0,904.6 1320.4,897.2 1321.4,897.0C1322.3,896.8 1323.7,905.0 1324.8,904.0C1326.0,903.0 1327.4,895.3 1328.3,891.2C1329.3,887.2 1329.8,883.1 1330.6,879.7C1331.5,876.2 1332.5,871.2 1333.4,870.4C1334.4,869.6 1335.3,871.5 1336.4,875.0C1337.5,878.5 1338.9,888.0 1339.9,891.2C1340.9,894.5 1341.5,895.9 1342.2,894.7C1342.9,893.6 1343.4,884.9 1344.1,884.3C1344.8,883.7 1345.5,889.7 1346.4,891.2C1347.2,892.8 1348.1,893.9 1349.2,893.6C1350.2,893.2 1351.5,891.2 1352.7,888.9C1353.8,886.6 1355.0,881.9 1356.1,879.7C1357.3,877.4 1358.4,875.7 1359.6,875.5C1360.8,875.3 1362.1,876.6 1363.1,878.5C1364.0,880.3 1364.4,884.9 1365.4,886.6C1366.4,888.3 1367.7,889.7 1368.9,888.9C1370.0,888.1 1371.0,884.7 1372.4,882.0C1373.7,879.3 1375.4,875.8 1377.0,872.7C1378.5,869.6 1380.3,864.6 1381.6,863.4C1383.0,862.3 1383.9,863.4 1385.1,865.7C1386.3,868.1 1387.4,873.1 1388.6,877.3C1389.7,881.6 1390.9,888.0 1392.1,891.2C1393.2,894.5 1394.4,896.3 1395.5,897.0C1396.7,897.8 1397.8,896.8 1399.0,895.9C1400.2,894.9 1401.3,892.6 1402.5,891.2C1403.6,889.9 1404.8,888.5 1406.0,887.8C1407.1,887.0 1408.3,886.0 1409.4,886.6C1410.6,887.2 1411.7,888.9 1412.9,891.2C1414.1,893.6 1415.0,897.8 1416.4,900.5C1417.7,903.2 1419.7,907.3 1421.0,907.5C1422.4,907.7 1423.1,904.0 1424.5,901.7C1425.8,899.4 1427.6,896.0 1429.1,893.6C1430.7,891.1 1432.4,886.7 1433.8,887.1C1435.1,887.5 1436.1,892.3 1437.2,895.9C1438.4,899.5 1439.6,905.7 1440.7,908.6C1441.9,911.5 1442.8,912.6 1444.2,913.3C1445.5,913.9 1447.1,912.9 1448.8,912.6C1450.6,912.2 1452.7,911.0 1454.6,910.9C1456.6,910.9 1458.5,911.3 1460.4,912.1C1462.3,912.9 1464.1,914.6 1466.2,915.6C1468.3,916.5 1471.4,918.9 1473.2,917.9C1474.9,916.9 1475.3,912.3 1476.6,909.8C1478.0,907.3 1479.9,903.8 1481.3,902.8C1482.6,901.9 1483.6,902.8 1484.8,904.0C1485.9,905.1 1486.9,907.8 1488.2,909.8C1489.6,911.7 1490.9,914.6 1492.9,915.6C1494.8,916.5 1497.5,915.8 1499.8,915.6C1502.1,915.4 1504.4,914.4 1506.8,914.4C1509.1,914.4 1511.4,915.0 1513.7,915.6C1516.0,916.2 1518.4,917.5 1520.7,917.9C1523.0,918.3 1525.3,918.1 1527.6,917.9C1529.9,917.7 1533.4,916.9 1534.6,916.7" fill="none" stroke="#5A8C3A" stroke-width="3.8" stroke-linejoin="round" stroke-linecap="round"/><line x1="862.5" x2="1532.5" y1="908.70" y2="908.70" stroke="#D95319" stroke-width="1.1" opacity="0.72"/><circle cx="1031.1" cy="898.4" r="6.8" fill="#EE1D25"/><circle cx="1029.3" cy="902.2" r="6.8" fill="#EE1D25"/><circle cx="1022.2" cy="912.4" r="6.8" fill="#EE1D25"/><circle cx="1080.7" cy="891.8" r="6.8" fill="#EE1D25"/><circle cx="1079.1" cy="895.1" r="6.8" fill="#EE1D25"/><circle cx="1121.6" cy="916.1" r="6.8" fill="#EE1D25"/><circle cx="1178.7" cy="912.8" r="6.8" fill="#EE1D25"/><circle cx="1176.5" cy="916.1" r="6.8" fill="#EE1D25"/><circle cx="1300.5" cy="917.9" r="6.8" fill="#EE1D25"/><circle cx="1297.0" cy="918.6" r="6.8" fill="#EE1D25"/><circle cx="1304.0" cy="917.2" r="6.8" fill="#EE1D25"/><circle cx="1380.5" cy="866.9" r="6.8" fill="#EE1D25"/><circle cx="1387.4" cy="875.0" r="6.8" fill="#EE1D25"/><circle cx="1377.0" cy="878.5" r="6.8" fill="#EE1D25"/><circle cx="1371.2" cy="885.4" r="6.8" fill="#EE1D25"/><circle cx="1367.7" cy="891.2" r="6.8" fill="#EE1D25"/><circle cx="1368.9" cy="895.9" r="6.8" fill="#EE1D25"/><circle cx="1374.7" cy="888.9" r="6.8" fill="#EE1D25"/><circle cx="1389.7" cy="885.4" r="6.8" fill="#EE1D25"/><circle cx="1399.0" cy="892.4" r="6.8" fill="#EE1D25"/><circle cx="1402.5" cy="890.1" r="6.8" fill="#EE1D25"/><text transform="translate(853.70,888.45) scale(1,1.04)" font-size="22.6" fill="#262626" text-anchor="end">0.2</text><text transform="translate(853.70,849.65) scale(1,1.04)" font-size="22.6" fill="#262626" text-anchor="end">0.4</text><text transform="translate(853.70,810.85) scale(1,1.04)" font-size="22.6" fill="#262626" text-anchor="end">0.6</text><text transform="translate(853.70,772.05) scale(1,1.04)" font-size="22.6" fill="#262626" text-anchor="end">0.8</text><text transform="translate(853.70,733.25) scale(1,1.04)" font-size="22.6" fill="#262626" text-anchor="end">1</text><text transform="translate(862.50,951.00) scale(1,1.04)" font-size="22.6" fill="#262626" text-anchor="middle">Jan</text><text transform="translate(970.80,951.00) scale(1,1.04)" font-size="22.6" fill="#262626" text-anchor="middle">Mar</text><text transform="translate(1082.77,951.00) scale(1,1.04)" font-size="22.6" fill="#262626" text-anchor="middle">May</text><text transform="translate(1194.75,951.00) scale(1,1.04)" font-size="22.6" fill="#262626" text-anchor="middle">Jul</text><text transform="translate(1308.55,951.00) scale(1,1.04)" font-size="22.6" fill="#262626" text-anchor="middle">Sep</text><text transform="translate(1420.53,951.00) scale(1,1.04)" font-size="22.6" fill="#262626" text-anchor="middle">Nov</text><text transform="translate(1197.50,981.00) scale(1,1.04)" font-size="22.6" fill="#262626" text-anchor="middle">Day in 2017</text><text transform="translate(801.10,821.50) rotate(-90) scale(1,1.04)" font-size="22.6" fill="#262626" text-anchor="middle">HTF Likelihood</text><text transform="translate(869.40,756.40) scale(1,1.03)" font-size="29.5" fill="#000" font-weight="bold">H</text></g>
</svg></body></html>
